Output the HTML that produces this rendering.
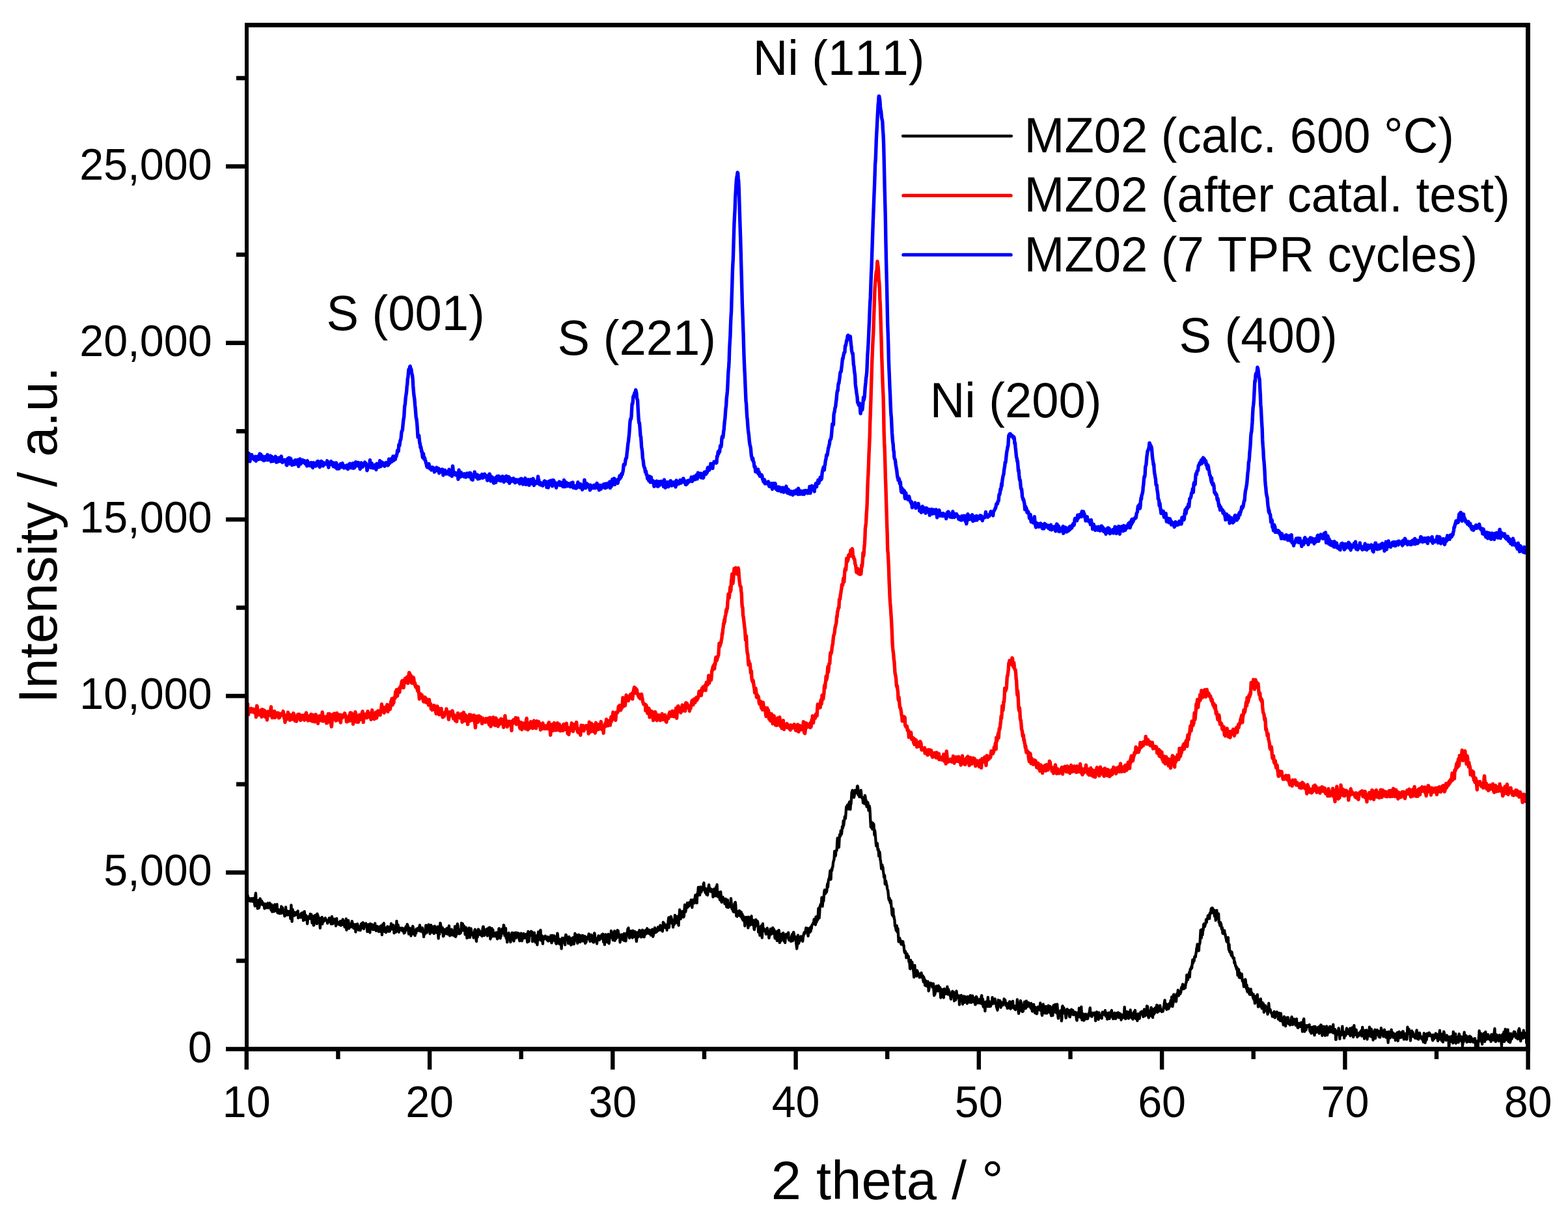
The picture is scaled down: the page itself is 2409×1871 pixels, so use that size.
<!DOCTYPE html>
<html><head><meta charset="utf-8"><title>XRD patterns MZ02</title>
<style>
html,body{margin:0;padding:0;background:#fff;}
svg{display:block;}
text{font-family:"Liberation Sans",Arial,sans-serif;fill:#000;font-kerning:none;}
.t{font-size:66.5px;}
.a{font-size:74.2px;}
.b{font-size:83.1px;}
</style></head><body>
<svg width="2409" height="1871" viewBox="0 0 2409 1871">
<rect width="2409" height="1871" fill="#fff"/>
<defs><clipPath id="c"><rect x="379" y="38" width="1968" height="1574"/></clipPath></defs>
<g clip-path="url(#c)">
<path d="M378.8 1378.6l.6 4.7l.5 -.7l.6 -7.5l.5 6l.6 2.9l.6 -4.7l.5 2.8l.6 1.7l.6 -.5l.5 -.9l.6 1.8l.6 -3.9l.5 -.1l.6 .2l.5 4l.6 .2l.6 -2.3l.5 -2.4l.6 1.4l.5 2.4l.6 -.4l.6 6.1l.5 2.3l.6 -15.6l.6 -4.1l.5 9l.6 2.8l.6 2.3l.5 1.6l.6 8l.5 -9.1l.6 -3.4l.6 11.7l.5 -.5l.6 -2.6l.5 -4.6l.6 -6.9l.6 5.4l.5 3.7l.6 -5.4l.6 -.3l.5 3.9l.6 -2.1l.6 1.9l.5 2.7l.6 .4l.5 -2.1l.6 3.6l.6 3.7l.5 -1.5l.6 -5.7l.5 4.3l.6 -1.7l.6 3.3l.5 -5l.6 4.4l.6 .5l.5 -6.8l.6 1.5l.6 3.6l.5 1.9l.6 -4.5l.5 -2.9l.6 5.3l.6 .1l.5 1.7l.6 3.8l.5 -8.6l.6 3.1l.6 8.1l.5 -4.1l.6 -5.1l.6 5.6l.5 1.3l.6 1.9l.6 -3.6l.5 -7.1l.6 3.5l.5 1.6l.6 4.5l.6 .3l.5 -8.5l.6 -1.8l.5 9.6l.6 3.7l.6 -5.7l.5 .1l.6 3.3l.6 1.2l.5 1.9l.6 -1.6l.6 -2.5l.5 -1.2l.6 5.2l.5 -10.7l.6 2l.6 5.2l.5 -5.4l.6 4.4l.5 -.3l.6 4.4l.6 -.8l.5 1.4l.6 4l.6 -2.1l.5 -6.8l.6 -5l.6 12.3l.5 -.8l.6 -6.1l.5 2.4l.6 .5l.6 3.8l.5 -1.1l.6 -1.6l.5 -2.9l.6 3.5l.6 -3.6l.5 4.1l.6 7.1l.6 -10.6l.5 -10l.6 10.9l.6 14.4l.5 -10.4l.6 -8.2l.5 7.2l.6 -2l.6 -1.4l.5 1.5l.6 4.1l.5 -1.9l.6 1l.6 -.3l.5 -3.6l.6 .9l.6 -1.3l.5 2.7l.6 -2.5l.6 -2.1l.5 10.7l.6 -.8l.5 -3l.6 2.5l.6 -2.6l.5 -1l.6 3.2l.5 .9l.6 -6.1l.6 5.4l.5 -1.6l.6 -4.7l.6 -.2l.5 2.5l.6 9.5l.6 -7.3l.5 -.1l.6 -6.6l.5 4.2l.6 8.2l.6 -2.7l.5 -3.8l.6 2.9l.5 3.8l.6 .9l.6 5.5l.5 -4.5l.6 -6.8l.6 .4l.5 1.3l.6 1l.6 -.1l.5 .7l.6 -7.1l.5 6.6l.6 -.5l.6 -5.2l.5 6.3l.6 6.7l.5 -1.9l.6 -3l.6 -5l.5 13.5l.6 -.3l.6 -12.2l.5 -2.6l.6 4.4l.6 -4.8l.5 3.8l.6 1.1l.5 5.7l.6 2.5l.6 -15.5l.5 3.9l.6 -1.1l.5 7.9l.6 1.9l.6 -.3l.5 -5.7l.6 8.7l.6 6.8l.5 -12.2l.6 -.3l.6 -1.2l.5 .6l.6 -3.7l.5 10.5l.6 -5.1l.6 -3l.5 4.8l.6 -3l.5 -.6l.6 -.3l.6 1.2l.5 -3.3l.6 1l.6 2.6l.5 0l.6 1.5l.6 -.6l.5 3.7l.6 -2.1l.5 -1.4l.6 -1.7l.6 -.4l.5 -2.6l.6 5.9l.5 -3.1l.6 -1.6l.6 5.4l.5 2.6l.6 -3.1l.6 -8.2l.5 6.8l.6 4.4l.6 -7.1l.5 5.7l.6 -1.5l.5 -4.6l.6 4.2l.6 1.5l.5 1.1l.6 -6.6l.5 10.5l.6 -2.8l.6 -8.7l.5 7l.6 .5l.6 .9l.5 -1.2l.6 -.1l.6 1.9l.5 -3.3l.6 3.9l.5 -1.7l.6 -3.9l.6 3.1l.5 3.6l.6 -1.9l.5 -3.9l.6 4.9l.6 -6.7l.5 -1.8l.6 6l.6 -3.5l.5 3l.6 2.6l.6 3.8l.5 -5.4l.6 -2.5l.5 4.7l.6 -9.5l.6 17.3l.5 -4.2l.6 -7.8l.5 6.5l.6 -.3l.6 -8.9l.5 6.4l.6 5.9l.6 -4.8l.5 -1.9l.6 3.6l.6 -4.1l.5 2.8l.6 1.8l.5 -4l.6 -4.6l.6 3.3l.5 -.1l.6 6.4l.5 .4l.6 1l.6 -1.3l.5 -.8l.6 -3.9l.6 3.9l.5 7.6l.6 -6.2l.6 -5.5l.5 1.3l.6 -.4l.5 -1.5l.6 3.1l.6 0l.5 6.3l.6 -2.3l.5 -1.5l.6 3.3l.6 -3.8l.5 4.6l.6 -4.9l.6 -4.9l.5 1.5l.6 2l.6 -4.7l.5 3l.6 -3.9l.5 9.3l.6 .3l.6 -5.3l.5 -2.2l.6 1.7l.5 1.8l.6 -3l.6 -1.2l.5 3.3l.6 .2l.6 5.4l.5 3.8l.6 -4.1l.6 -.4l.5 -6.5l.6 4.5l.5 1.3l.6 .8l.6 5.7l.5 -13.7l.6 2.5l.5 -.3l.6 4.2l.6 -4.3l.5 -.6l.6 4.6l.6 3.2l.5 -1.4l.6 -4.6l.6 -.8l.5 6.5l.6 -.7l.5 -8.7l.6 6.9l.6 3.5l.5 1l.6 -4l.5 2.3l.6 -5.3l.6 2.8l.5 -1l.6 2.7l.6 3.8l.5 -6.5l.6 -.8l.6 1.8l.5 5l.6 .4l.5 -8.9l.6 2.9l.6 4.7l.5 6.3l.6 -12.8l.5 -3.1l.6 10l.6 -7.2l.5 -4.8l.6 7.4l.6 5.6l.5 -5.9l.6 1.5l.6 .7l.5 5l.6 -3.4l.5 1l.6 -5.8l.6 -.9l.5 1.9l.6 5.2l.5 .3l.6 -6.6l.6 3.1l.5 3.4l.6 -3.5l.6 -2.4l.5 0l.6 -6l.6 4.6l.5 4.1l.6 -4.4l.5 4.4l.6 -5.4l.6 -1l.5 2l.6 10.3l.5 -9.6l.6 1.5l.6 6l.5 -1.5l.6 2.1l.6 -7.3l.5 -9.7l.6 9.9l.6 -1.8l.5 -.4l.6 -1.7l.5 7.4l.6 3.8l.6 -6.9l.5 3.5l.6 .1l.5 -2.7l.6 .3l.6 -.6l.5 2.8l.6 .5l.6 -3.4l.5 4.3l.6 -3.9l.6 .4l.5 2.4l.6 4.7l.5 -6l.6 5.2l.6 -1.8l.5 -4.8l.6 -2.7l.5 4.2l.6 .4l.6 -5.8l.5 -2.4l.6 2.3l.6 .7l.5 7l.6 4.9l.6 -1.5l.5 -3.1l.6 -4.3l.5 .4l.6 4.4l.6 6.9l.5 -2.5l.6 -7.3l.5 -1.2l.6 -1.4l.6 -2.3l.5 1.9l.6 2.8l.6 7.5l.5 -3.9l.6 1.7l.6 4.4l.5 -6.1l.6 2.9l.5 -.5l.6 -6.5l.6 .5l.5 .4l.6 -1.5l.5 -.4l.6 1.6l.6 1.9l.5 -4.8l.6 .9l.6 -4.4l.5 4.2l.6 5.2l.6 -1.1l.5 -.4l.6 1.5l.5 -4.5l.6 -.8l.6 4l.5 3.6l.6 -1.5l.5 7.7l.6 -6.4l.6 -.9l.5 3.3l.6 -5.2l.6 -5.6l.5 -2.9l.6 4.8l.6 6.7l.5 -1.5l.6 -2.1l.5 -2.4l.6 2.8l.6 -9.2l.5 4.3l.6 4l.5 -6.1l.6 11.7l.6 -7.3l.5 -6l.6 .1l.6 9.3l.5 -3.4l.6 2.3l.6 2.9l.5 -1.5l.6 -7.1l.5 -.3l.6 10.8l.6 -7.4l.5 -4.2l.6 3.7l.5 5.4l.6 -.2l.6 .9l.5 -6.4l.6 4.6l.6 2.6l.5 -9.7l.6 8.5l.6 9.6l.5 -11l.6 -2.9l.5 7.3l.6 -9.1l.6 -8l.5 1.9l.6 4.4l.5 1.5l.6 4.9l.6 1.1l.5 -6.9l.6 4.4l.6 9.1l.5 -.1l.6 -2.2l.6 -4.4l.5 2l.6 -6l.5 3.1l.6 .1l.6 3.4l.5 -.2l.6 -7.8l.5 1.9l.6 7l.6 -7.4l.5 -2.4l.6 .3l.6 -3.4l.5 8.7l.6 6.5l.6 -1.4l.5 -3.3l.6 -2.3l.5 .6l.6 -3.3l.6 4.7l.5 4l.6 -.1l.5 -6.2l.6 -.5l.6 .3l.5 7.5l.6 -2.5l.6 -11.8l.5 5.2l.6 10.8l.6 -1.8l.5 -1.6l.6 -3.1l.5 -9.9l.6 -3.5l.6 2.7l.5 5.8l.6 4.2l.5 2.5l.6 -3.5l.6 3.3l.5 -2.4l.6 -4.2l.6 5.5l.5 -4l.6 -11.1l.6 3.2l.5 8.2l.6 -10.6l.5 4.7l.6 5.7l.6 -4.4l.5 -2.4l.6 4.1l.5 1.8l.6 7.3l.6 .1l.5 -9.8l.6 -1l.6 7.9l.5 8.2l.6 -3.7l.6 -3.4l.5 6.3l.6 -4.6l.5 -5l.6 -5.1l.6 1.5l.5 13l.6 -9.3l.5 -1.4l.6 -2.9l.6 3.5l.5 6.3l.6 -3l.6 1.7l.5 2l.6 -1.1l.6 4.7l.5 -1.2l.6 -6.4l.5 -3.7l.6 -1.4l.6 5.2l.5 -.6l.6 11l.5 2.7l.6 -10.3l.6 -4.6l.5 8.1l.6 -10.5l.6 -1.4l.5 8.7l.6 -4.7l.6 -2l.5 1.5l.6 4.5l.5 -.1l.6 .1l.6 1.4l.5 -1.9l.6 3.3l.5 -5.3l.6 -6.6l.6 -2.8l.5 0l.6 4.8l.6 8.7l.5 -.2l.6 -4.9l.6 -3.4l.5 1.3l.6 1.6l.5 -.3l.6 -3.9l.6 2.3l.5 8.1l.6 -10l.5 1.5l.6 -3.7l.6 5.6l.5 1l.6 -7.4l.6 6.3l.5 11.6l.6 -3.4l.6 .9l.5 -2.9l.6 -11l.5 6.6l.6 1.8l.6 -6.1l.5 7.1l.6 2.7l.5 -4.4l.6 4.2l.6 -4.3l.5 2.7l.6 -3.3l.6 2.9l.5 -3.7l.6 7.4l.6 .3l.5 2.4l.6 -6.8l.5 -3.2l.6 6.2l.6 -12l.5 -.4l.6 12.1l.5 2.1l.6 1l.6 -4.2l.5 1l.6 -3.5l.6 -5.2l.5 -2.6l.6 4.1l.6 2.4l.5 -.3l.6 -12.1l.5 .4l.6 9.3l.6 6.5l.5 -1.9l.6 -2.9l.5 -6.4l.6 14.9l.6 -3.9l.5 5.1l.6 5.3l.6 -5.5l.5 -6.1l.6 1.2l.6 -3.8l.5 3.3l.6 1.9l.5 1.7l.6 2.8l.6 4.2l.5 -7.1l.6 1.6l.5 -4.6l.6 -4.1l.6 1l.5 -.9l.6 7.4l.6 3.8l.5 1.4l.6 -4.6l.6 -1.4l.5 -2.8l.6 -4.1l.5 5.5l.6 2.6l.6 -6l.5 4.2l.6 -6l.5 1.7l.6 1.4l.6 -.5l.5 -2l.6 7.3l.6 2.6l.5 1.8l.6 -3l.6 -8l.5 .9l.6 -1.4l.5 5.1l.6 6.5l.6 -2l.5 -5.6l.6 -1l.5 2.9l.6 -5.5l.6 3.2l.5 3.5l.6 -2.9l.6 -1l.5 2.7l.6 -2.8l.6 -2l.5 6.6l.6 1.1l.5 4.8l.6 -7.9l.6 -8.7l.5 9.6l.6 5.7l.5 -6.9l.6 -6.5l.6 4.4l.5 -4l.6 2.3l.6 -4.7l.5 4.3l.6 -3.7l.6 3.9l.5 11.1l.6 -3.7l.5 .6l.6 -3.6l.6 -3.9l.5 -3l.6 9.2l.5 .8l.6 4.7l.6 -8.1l.5 -1.8l.6 3.2l.6 6.2l.5 4.4l.6 -9.3l.6 -7l.5 -3.5l.6 11.5l.5 .5l.6 -5.3l.6 1.4l.5 -9.1l.6 -1.7l.5 12.7l.6 3.3l.6 -2.1l.5 -5.2l.6 4.2l.6 8.2l.5 -9.9l.6 -1.1l.6 .8l.5 2.3l.6 .3l.5 -1.4l.6 -3.3l.6 2.1l.5 -.7l.6 .7l.5 1.4l.6 3.1l.6 -3.6l.5 -1.4l.6 6.3l.6 -2.5l.5 -2.8l.6 4.6l.6 -.1l.5 -1.9l.6 .1l.5 -5.7l.6 4l.6 7.1l.5 -1.2l.6 -10.3l.5 3.2l.6 -1.1l.6 .3l.5 2.9l.6 -4.7l.6 7.7l.5 -.5l.6 .7l.6 1.1l.5 2.6l.6 .9l.5 -11.3l.6 .8l.6 -5.8l.5 2.5l.6 8.2l.5 3.2l.6 2l.6 -6l.5 -.6l.6 .5l.6 4.4l.5 3.7l.6 -7.3l.6 13.1l.5 -7.1l.6 -9.3l.5 3.3l.6 2.6l.6 -.5l.5 -5.3l.6 6.2l.5 -1.4l.6 3.2l.6 2.4l.5 -11.2l.6 -4.3l.6 .6l.5 5.1l.6 1.7l.6 .5l.5 -4l.6 2.9l.5 6.6l.6 -9.3l.6 -.9l.5 4.2l.6 -.7l.5 -1l.6 7.9l.6 2.1l.5 -2.8l.6 -7.5l.6 9l.5 -1.5l.6 -7.7l.6 -1l.5 -.1l.6 10.4l.5 -2.5l.6 -4.5l.6 -9.4l.5 7.3l.6 -1.5l.5 -4l.6 7.1l.6 -2.5l.5 3.9l.6 4.7l.6 -11.4l.5 .8l.6 -2.5l.6 3.2l.5 7.2l.6 -7.4l.5 8.3l.6 -2.2l.6 -7.9l.5 2.5l.6 6l.5 -7.1l.6 1.2l.6 -2.8l.5 7.7l.6 1l.6 -4.5l.5 4.8l.6 -6.6l.6 -1.1l.5 11l.6 -3.5l.5 2l.6 -1.7l.6 -6.1l.5 0l.6 2.2l.5 -1.3l.6 -2.7l.6 -.7l.5 -2.9l.6 5.1l.6 4.5l.5 2l.6 -9.8l.6 5.5l.5 1.9l.6 -7.5l.5 3.4l.6 6l.6 .3l.5 .2l.6 1.3l.5 .2l.6 -3.9l.6 -10.4l.5 1.2l.6 7.3l.6 -1.1l.5 3l.6 2.8l.6 -2.9l.5 6l.6 -8l.5 2l.6 -1.9l.6 -4.2l.5 5l.6 -2.2l.5 3.6l.6 -5.4l.6 .8l.5 -1.2l.6 .7l.6 .6l.5 -3.4l.6 5.8l.6 -4.2l.5 -2.9l.6 8.2l.5 4.2l.6 -1.1l.6 -2l.5 7.2l.6 -10.4l.5 -5.3l.6 -.1l.6 7.3l.5 1.3l.6 2.1l.6 1.1l.5 -5.3l.6 -4.9l.6 -2l.5 12.8l.6 1.4l.5 -4.1l.6 -4.7l.6 -1.3l.5 -.4l.6 -.3l.5 -8.5l.6 5.3l.6 3.5l.5 2l.6 1l.6 2.5l.5 -2.3l.6 1.5l.6 -12.2l.5 -1l.6 14.6l.5 -6.3l.6 -2.3l.6 5.9l.5 -4.5l.6 3.3l.5 -5.6l.6 -6.5l.6 1.3l.5 -.2l.6 6.1l.6 2l.5 2l.6 -4.3l.6 11.8l.5 -3.5l.6 -5.3l.5 2.1l.6 -1.9l.6 -3.1l.5 2.1l.6 4.8l.5 .6l.6 .6l.6 -5.7l.5 -4.1l.6 11l.6 -3.6l.5 -1.7l.6 2.4l.6 3.3l.5 -10.1l.6 -2.2l.5 2l.6 .5l.6 -8.5l.5 5.1l.6 -6.8l.5 7.3l.6 7.5l.6 .6l.5 -7.3l.6 5.1l.6 -3.2l.5 -5.3l.6 .2l.6 1l.5 4.4l.6 4.7l.5 -10.8l.6 .3l.6 9l.5 0l.6 -.2l.5 -7.8l.6 5.9l.6 -5.4l.5 2l.6 8.3l.6 4.4l.5 -4.6l.6 -1.4l.6 -5.5l.5 -2.6l.6 6.9l.5 -1.5l.6 -3.1l.6 -5.6l.5 3.7l.6 5.1l.5 -5l.6 -1.9l.6 9l.5 -1.6l.6 -4.9l.6 -4.6l.5 .3l.6 2.5l.6 7.3l.5 -5l.6 5.7l.5 -6.4l.6 -3.4l.6 6l.5 -2.1l.6 -4.8l.5 1.5l.6 3.7l.6 -7.8l.5 1.4l.6 3.4l.6 -1l.5 3.9l.6 -3.2l.6 -2l.5 2l.6 3.5l.5 -2.7l.6 5.1l.6 -6.6l.5 3.9l.6 -4.5l.5 -1.7l.6 3.4l.6 7.9l.5 -1.5l.6 -7.9l.6 4.2l.5 -2.9l.6 -5.7l.6 3.7l.5 .9l.6 2.6l.5 -4.6l.6 .6l.6 2.7l.5 -1.1l.6 -2.2l.5 -3.6l.6 5l.6 -.1l.5 -.3l.6 -2.9l.6 -.5l.5 -3.8l.6 2.2l.6 4.9l.5 -1.6l.6 1.5l.5 -.9l.6 3l.6 -4.5l.5 -9.4l.6 5.3l.5 1.5l.6 -4.8l.6 4.8l.5 1.4l.6 -.3l.6 -3.1l.5 .3l.6 1l.6 6.1l.5 -7.3l.6 -2.5l.5 2.6l.6 -8.2l.6 -4.1l.5 15.5l.6 -8.8l.5 1.2l.6 -1.3l.6 -3l.5 -5.1l.6 1.5l.6 8.8l.5 -5.8l.6 3.3l.6 2.6l.5 6l.6 -7.1l.5 1.6l.6 1.6l.6 -6l.5 -8.5l.6 9.8l.5 -5.7l.6 -2.7l.6 7l.5 3.3l.6 -8.1l.6 -1.1l.5 .3l.6 4.9l.6 8l.5 -15.7l.6 1.9l.5 -10.4l.6 3.6l.6 .7l.5 9.9l.6 -1.7l.5 -8l.6 -1.4l.6 -.4l.5 2.4l.6 -.5l.6 2.1l.5 4.7l.6 -2.3l.6 -10.3l.5 -6.2l.6 2.1l.5 8.6l.6 -2.7l.6 -4.9l.5 2l.6 -5.4l.5 -2.8l.6 6.7l.6 -.7l.5 -3l.6 2.1l.6 -2.8l.5 -3l.6 0l.6 4.1l.5 -.8l.6 -7.1l.5 .4l.6 5l.6 6.2l.5 -10.7l.6 -.8l.5 -.2l.6 2.5l.6 -.1l.5 2.7l.6 -2.6l.6 -7.1l.5 -2.9l.6 3.2l.6 1.2l.5 7.5l.6 .4l.5 -13.9l.6 -.3l.6 -4.4l.5 -5.5l.6 8.6l.5 3.6l.6 -7.6l.6 7.2l.5 -5.8l.6 -6.7l.6 6.6l.5 1.5l.6 -2.9l.6 -.8l.5 1l.6 -1.3l.5 -1.2l.6 -7.5l.6 -1.5l.5 9l.6 -1.6l.5 2.3l.6 5.3l.6 -5.2l.5 -.7l.6 8.6l.6 -1.9l.5 1.9l.6 1.2l.6 -3.8l.5 -5.1l.6 -4.6l.5 -2.5l.6 6.1l.6 3.4l.5 -2.5l.6 3.1l.5 -3.7l.6 4.3l.6 -.6l.5 -2.3l.6 .2l.6 0l.5 10.7l.6 -11.2l.6 -.8l.5 8.4l.6 .4l.5 -5l.6 6.7l.6 -7l.5 -6.3l.6 7.6l.5 -4.1l.6 -7.5l.6 11.9l.5 6.6l.6 .1l.6 -4.6l.5 .7l.6 -2.9l.6 9.2l.5 2.2l.6 -1.7l.5 -10.6l.6 6.3l.6 9l.5 .7l.6 -1.8l.5 -3.6l.6 -2.5l.6 3.7l.5 1.6l.6 -.5l.6 -2l.5 7.6l.6 -7.1l.6 -.6l.5 .6l.6 6l.5 5.6l.6 .6l.6 -1.9l.5 -9.3l.6 10.4l.5 1.3l.6 -5.2l.6 -.2l.5 -.7l.6 3l.6 1.6l.5 -2.4l.6 -9.9l.6 6.4l.5 7.9l.6 1.8l.5 -2.2l.6 1.7l.6 4.1l.5 -4.4l.6 5.4l.5 -9.6l.6 -3.6l.6 3.4l.5 -5.1l.6 3.3l.6 12.8l.5 5.1l.6 -4.2l.6 4.8l.5 -2.2l.6 -5.6l.5 2l.6 .5l.6 3.3l.5 -6.9l.6 6.1l.5 -.3l.6 2.8l.6 -6.6l.5 .1l.6 4.9l.6 4.8l.5 -6.5l.6 7.9l.6 1.6l.5 -6.2l.6 5.6l.5 -.6l.6 2.5l.6 7.4l.5 -3.6l.6 -8l.5 -1.9l.6 4.8l.6 1.3l.5 -4.8l.6 -1.2l.6 6.2l.5 10.1l.6 -16.6l.6 3.9l.5 3.5l.6 2.5l.5 2.8l.6 -2.7l.6 -5.7l.5 -3.4l.6 -2.4l.5 12.2l.6 .8l.6 -3.9l.5 .7l.6 -3.4l.6 4.9l.5 7.9l.6 1.7l.6 -11.1l.5 6.8l.6 -2.4l.5 -8.7l.6 .8l.6 2.8l.5 4.8l.6 -1.9l.5 -3.7l.6 4.4l.6 11.9l.5 -5.9l.6 -.3l.6 1.1l.5 10.1l.6 -13.1l.6 3.3l.5 -3.3l.6 -1.8l.5 3.8l.6 14.8l.6 -9.2l.5 -12.5l.6 11.1l.5 -1.9l.6 -1.7l.6 2.4l.5 1.3l.6 -.6l.6 1.5l.5 1.7l.6 2.4l.6 -4l.5 -3.7l.6 -1.7l.5 6.4l.6 1.1l.6 1.4l.5 1.4l.6 5l.5 -3.5l.6 -.6l.6 -6.6l.5 -3.3l.6 3.6l.6 -1.9l.5 6.2l.6 -4.1l.6 1.8l.5 -7.3l.6 .6l.5 6.2l.6 2.1l.6 -5.9l.5 4.9l.6 7.7l.5 .6l.6 -5.8l.6 -2.2l.5 -2.1l.6 6.4l.6 7.3l.5 -6.3l.6 -8.6l.6 5.5l.5 6.2l.6 -12.9l.5 4.9l.6 14.4l.6 -1.2l.5 -3.7l.6 -1l.5 2.6l.6 -6.8l.6 -3.5l.5 5.5l.6 -1.8l.6 1.8l.5 -6.9l.6 6.7l.6 5.9l.5 -3l.6 -1l.5 6.3l.6 -8l.6 -4.7l.5 -.3l.6 2.4l.5 -.9l.6 3.2l.6 -.6l.5 -4.7l.6 -2l.6 11.2l.5 .5l.6 -3.2l.6 .7l.5 .1l.6 3.3l.5 .9l.6 -5.1l.6 -3.4l.5 -1.5l.6 -1.3l.5 10.6l.6 -4.1l.6 -9.4l.5 2.5l.6 2.6l.6 4.7l.5 -2.8l.6 3.2l.6 2.2l.5 3.2l.6 5.4l.5 4.5l.6 -4.9l.6 -13.5l.5 -2.3l.6 4.1l.5 8.6l.6 -2.2l.6 -.9l.5 -4.8l.6 .1l.6 1.8l.5 -4.8l.6 2.3l.6 3.5l.5 -4.8l.6 2l.5 4.6l.6 -5.6l.6 -3.9l.5 -1.8l.6 -2.3l.5 2.1l.6 -1.2l.6 -1.2l.5 -2.2l.6 -4.6l.6 .3l.5 5.9l.6 -4.2l.6 -1.5l.5 9.9l.6 2l.5 -9.2l.6 .9l.6 -3.2l.5 6.1l.6 -5.2l.5 -2.6l.6 6l.6 -7.3l.5 3.4l.6 -5.2l.6 -.9l.5 -.9l.6 -1.2l.6 .5l.5 -1.5l.6 -5.4l.5 4.8l.6 2.2l.6 1l.5 .4l.6 -12.2l.5 4.1l.6 4.2l.6 -8.7l.5 1.4l.6 3.8l.6 -8.7l.5 -8.9l.6 1.1l.6 13.6l.5 -5.4l.6 -12.7l.5 -.5l.6 -2.6l.6 -.6l.5 1.7l.6 -11.5l.5 5l.6 8.7l.6 -6.2l.5 -5.7l.6 3.9l.6 -8.4l.5 -6.5l.6 -2.4l.6 3l.5 2.9l.6 -2.7l.5 -.3l.6 .6l.6 -2.8l.5 -8l.6 -2.4l.5 5.3l.6 -8.4l.6 -3.5l.5 -1.1l.6 -1.5l.6 -5.3l.5 -5.1l.6 13.4l.6 -.8l.5 -12.3l.6 -2.9l.5 2.1l.6 -4.9l.6 -.4l.5 -5.3l.6 -3.8l.5 -.6l.6 -3.3l.6 -11.3l.5 3.8l.6 3.8l.6 -1l.5 -7.9l.6 .2l.6 -.1l.5 -10.8l.6 -8.2l.5 7.8l.6 -2.7l.6 2.8l.5 6.4l.6 -11.2l.5 -8.3l.6 .3l.6 1.9l.5 -8.3l.6 3.9l.6 1.6l.5 -4.1l.6 -7.8l.6 1.3l.5 .6l.6 -10.7l.5 7.2l.6 -5.2l.6 -4.2l.5 -4.3l.6 -.1l.5 3.1l.6 -8.4l.6 -9.4l.5 1.3l.6 -2.8l.6 -1.3l.5 2l.6 -.1l.6 4.1l.5 -8.3l.6 -.7l.5 -2.2l.6 4.5l.6 7.3l.5 -8.1l.6 -.2l.5 -7.5l.6 -10.1l.6 -1.9l.5 -1.6l.6 1l.6 3.3l.5 6.3l.6 .3l.6 -2.6l.5 -4.8l.6 -3.6l.5 2l.6 1.6l.6 .4l.5 .4l.6 -1.9l.5 -8.6l.6 -.4l.6 2.8l.5 11.1l.6 -3.3l.6 .4l.5 5.8l.6 -2.6l.6 -4.9l.5 -.6l.6 -2.2l.5 4.6l.6 6.9l.6 .1l.5 .6l.6 1.1l.5 6.1l.6 -7.1l.6 -1.1l.5 5l.6 4.6l.6 -12.7l.5 1.6l.6 6.6l.6 -1.3l.5 7.6l.6 2.8l.5 -2.2l.6 -4.7l.6 .4l.5 3.8l.6 8.4l.5 -2.1l.6 -5l.6 2.7l.5 6.8l.6 13.1l.6 10.1l.5 -8.5l.6 1.9l.6 7l.5 2.6l.6 -3.8l.5 -5.5l.6 3.2l.6 -1.6l.5 8.1l.6 8.9l.5 -7.5l.6 4.5l.6 7.6l.5 7.1l.6 5l.6 .3l.5 -4.8l.6 .7l.6 9.7l.5 -1.7l.6 1.1l.5 10.3l.6 0l.6 -6.6l.5 3.9l.6 8.6l.5 1.1l.6 6.4l.6 5.9l.5 -5.2l.6 -.8l.6 4.5l.5 -1.1l.6 6.8l.6 3.5l.5 5.4l.6 -1.2l.5 -1.5l.6 13.2l.6 -3.1l.5 -1.9l.6 2.5l.5 3.9l.6 .8l.6 4.8l.5 1.5l.6 2.3l.6 6.2l.5 5.4l.6 2.1l.6 -3.1l.5 4.5l.6 2.5l.5 1.3l.6 -4.3l.6 8.8l.5 3.8l.6 8.1l.5 1.6l.6 -7.2l.6 -2.5l.5 12l.6 -1.1l.6 4.4l.5 1.2l.6 9.9l.6 -1.4l.5 3.7l.6 4.2l.5 -5.8l.6 -1.2l.6 9.6l.5 -.5l.6 -4.7l.5 8.5l.6 11.7l.6 -6.1l.5 2.3l.6 -1.7l.6 4.7l.5 -1.7l.6 4.8l.6 1.7l.5 -3l.6 1.8l.5 -.8l.6 -2.5l.6 .6l.5 5.8l.6 -.6l.5 5.5l.6 4.9l.6 1.3l.5 -2.7l.6 1.6l.6 2.2l.5 6.6l.6 -4.7l.6 -1.4l.5 2.8l.6 1.8l.5 -1.1l.6 .4l.6 8.2l.5 -2.3l.6 4.1l.5 8.9l.6 .2l.6 -13.2l.5 5.3l.6 5.1l.6 .6l.5 -7.8l.6 6.3l.6 -1.8l.5 6.9l.6 4.9l.5 6.5l.6 -8.2l.6 -9.9l.5 9l.6 5.4l.5 -4.7l.6 5.3l.6 1.6l.5 -8.8l.6 .5l.6 2.3l.5 1.9l.6 2.6l.6 -2.4l.5 .9l.6 4.9l.5 -.5l.6 -1.5l.6 0l.5 1.4l.6 -6.5l.5 5.4l.6 0l.6 2.7l.5 -3.6l.6 7.2l.6 2.6l.5 -7.4l.6 3.7l.6 -.3l.5 9l.6 .3l.5 -7.5l.6 2l.6 1.5l.5 5l.6 -.5l.5 -.7l.6 -6l.6 4.9l.5 9.7l.6 -2.9l.6 -5.4l.5 -.1l.6 -3.8l.6 2.7l.5 -2.6l.6 2.4l.5 1l.6 -2.4l.6 5.2l.5 -5.2l.6 2l.5 -2l.6 10.7l.6 7.4l.5 -4.1l.6 2.3l.6 -2.9l.5 -2.6l.6 -3.8l.6 -3.6l.5 3.5l.6 -.3l.5 -.7l.6 5.3l.6 -.9l.5 -7.4l.6 2.8l.5 .8l.6 1.1l.6 -2.1l.5 8l.6 7.9l.6 -10.7l.5 1.2l.6 3.7l.6 -6.8l.5 1.6l.6 8.1l.5 .6l.6 2.2l.6 -9.7l.5 -3.8l.6 5.4l.5 2.6l.6 -1l.6 -2.2l.5 -.8l.6 -.6l.6 4.1l.5 -10.8l.6 11.5l.6 .4l.5 -7.9l.6 6.4l.5 -3.7l.6 3.5l.6 .6l.5 2.7l.6 3l.5 2.6l.6 -6.1l.6 -2.7l.5 1.7l.6 -5l.6 5.5l.5 2.4l.6 -6.8l.6 7.6l.5 6.1l.6 -10.6l.5 2.4l.6 6.8l.6 -.1l.5 -8.2l.6 -5.3l.5 4.6l.6 1.2l.6 1.4l.5 .7l.6 2.6l.6 -3.1l.5 -.4l.6 13.8l.6 -6.2l.5 -2.6l.6 0l.5 -1l.6 -4.7l.6 3.7l.5 .7l.6 2.5l.5 7l.6 -5l.6 -1.3l.5 -6l.6 1.1l.6 8.4l.5 -3.6l.6 -5.5l.6 2.4l.5 .2l.6 -.9l.5 -.5l.6 9.5l.6 -6.8l.5 -3.9l.6 .5l.5 7.2l.6 -2.4l.6 3.5l.5 -1.3l.6 -3l.6 -6.2l.5 8.1l.6 2.9l.6 -1.9l.5 -2.3l.6 -2.2l.5 -4l.6 7.5l.6 1.8l.5 -3.8l.6 -2.3l.5 2.6l.6 .8l.6 6.8l.5 .1l.6 -7.4l.6 -4.8l.5 2.6l.6 -.8l.6 2.7l.5 3.5l.6 1.7l.5 -.3l.6 -2.9l.6 2.1l.5 -4.4l.6 .4l.5 5.4l.6 -.2l.6 -7.4l.5 -2.6l.6 -1.6l.6 13.2l.5 -6.7l.6 -1l.6 11.1l.5 1.1l.6 -.5l.5 -6.9l.6 1.4l.6 12.2l.5 -7.9l.6 -4.4l.5 -2l.6 -.2l.6 2.3l.5 5.1l.6 -7.3l.6 -6.8l.5 5l.6 3.8l.6 5.4l.5 -.3l.6 -6.9l.5 2.3l.6 4.7l.6 -2.2l.5 -4.2l.6 3l.5 -2.1l.6 -8.3l.6 10.1l.5 -4.1l.6 -1.4l.6 2.1l.5 0l.6 .3l.6 -4.6l.5 5.8l.6 2l.5 -.9l.6 4.4l.6 2.3l.5 1.1l.6 2.6l.5 -4.6l.6 -11l.6 3.2l.5 2.8l.6 -.1l.6 -2.6l.5 -2.5l.6 6.4l.6 4.3l.5 -8.2l.6 2.6l.5 .6l.6 -2.3l.6 4l.5 -.8l.6 -3.5l.5 1.6l.6 -7.2l.6 1.6l.5 3.6l.6 -3.5l.6 4.5l.5 3.7l.6 -3.3l.6 0l.5 4.4l.6 3.4l.5 -6.6l.6 .8l.6 5.2l.5 -2.9l.6 -5.2l.5 -1.4l.6 1.9l.6 -2l.5 11.1l.6 -4.3l.6 -1.3l.5 1.2l.6 1.5l.6 -3.2l.5 -5.8l.6 10.3l.5 -1l.6 -2.6l.6 .8l.5 4.6l.6 .2l.5 .7l.6 -.5l.6 -3.4l.5 -.9l.6 -3.8l.6 -6.9l.5 4.6l.6 .1l.6 13.4l.5 3.4l.6 -3.6l.5 -7.8l.6 7.2l.6 -10l.5 -5.6l.6 2.8l.5 .2l.6 4.2l.6 2.6l.5 7.3l.6 -.2l.6 -.8l.5 -2.8l.6 -3.9l.6 -3.3l.5 -4.4l.6 1l.5 3.4l.6 5.8l.6 -7.6l.5 -3.7l.6 7.3l.5 -1.9l.6 3.2l.6 -.2l.5 -2.8l.6 -3l.6 4l.5 0l.6 -.8l.6 .3l.5 3.4l.6 1.6l.5 -7.6l.6 2.6l.6 5.6l.5 3.9l.6 .3l.5 -2.8l.6 -6.6l.6 -1.2l.5 7.8l.6 -3.1l.6 3.9l.5 4.6l.6 -9l.6 1.5l.5 .9l.6 7.8l.5 -.4l.6 -8l.6 1.1l.5 -3.4l.6 .5l.5 3.1l.6 .6l.6 .6l.5 -4.5l.6 -6.3l.6 4.2l.5 1l.6 -.2l.6 12.2l.5 1.9l.6 -7.4l.5 -7.9l.6 -1.9l.6 7.2l.5 6.4l.6 -4l.5 -1l.6 1.4l.6 3.7l.5 -10.3l.6 2.4l.6 5.3l.5 2.8l.6 -1.1l.6 -7.2l.5 -.8l.6 -2.7l.5 5.2l.6 3.6l.6 1.4l.5 -5.4l.6 -3.6l.5 10.7l.6 0l.6 3.8l.5 -2.1l.6 -10.4l.6 5.5l.5 6.5l.6 -6l.6 -9.4l.5 7.7l.6 2.1l.5 .1l.6 -11.2l.6 6.9l.5 -6.7l.6 1.3l.5 11.1l.6 -7.4l.6 -5.7l.5 5.8l.6 11.6l.6 4.3l.5 -9.2l.6 2.2l.6 1.6l.5 -2.1l.6 -.2l.5 -4.2l.6 4.2l.6 4.2l.5 7.4l.6 -3.9l.5 -17.5l.6 -1.7l.6 8.9l.5 2.2l.6 -8.4l.6 3.1l.5 2.7l.6 .9l.6 .4l.5 4.2l.6 4.5l.5 -2.1l.6 -8.9l.6 -2.6l.5 1.4l.6 3l.5 -.3l.6 -.4l.6 -2.1l.5 6.6l.6 3.5l.6 .3l.5 -4l.6 .1l.6 -4.5l.5 -3.1l.6 1.7l.5 5.7l.6 -.6l.6 -5.6l.5 3.1l.6 3.9l.5 -.3l.6 -3.9l.6 1.4l.5 -.5l.6 -.5l.6 1.2l.5 4l.6 6.2l.6 1.1l.5 -4.3l.6 -6.1l.5 -1.7l.6 .4l.6 6l.5 -13.2l.6 4.4l.5 -3l.6 3.6l.6 9.6l.5 -6.4l.6 -10.2l.6 11.9l.5 8.3l.6 -3.7l.6 1.1l.5 -6.9l.6 4l.5 6.2l.6 -3.2l.6 -3.6l.5 3.4l.6 1.5l.5 -8l.6 4.8l.6 1.9l.5 -3.7l.6 3.6l.6 .8l.5 -1.5l.6 -5.5l.6 3l.5 -5.2l.6 .1l.5 -4.4l.6 -3.3l.6 8.9l.5 2.3l.6 -.4l.5 2.5l.6 .1l.6 -5.6l.5 1.4l.6 1.5l.6 -2.1l.5 .7l.6 -.2l.6 -1.6l.5 .7l.6 3.1l.5 8.7l.6 -8.1l.6 -.4l.5 -5.3l.6 8.5l.5 -1.6l.6 -2l.6 5.7l.5 1.1l.6 -10.7l.6 3.3l.5 1l.6 1.9l.6 -.1l.5 1.5l.6 -.6l.5 -2.7l.6 4.6l.6 -8.5l.5 -1l.6 .2l.5 2.3l.6 .5l.6 .6l.5 -.8l.6 -.6l.6 -4.8l.5 4.2l.6 4.8l.6 -3l.5 -2.1l.6 0l.5 9.6l.6 -1.3l.6 -2.3l.5 -2.4l.6 -2.2l.5 -1.9l.6 9.2l.6 -8.3l.5 1.5l.6 2.8l.6 -1.6l.5 -5.8l.6 -1.3l.6 9.8l.5 -2.3l.6 3l.5 2.4l.6 -.8l.6 .6l.5 -7.7l.6 -1l.5 6.2l.6 -5.6l.6 8.1l.5 -3.1l.6 -2.5l.6 -3l.5 3.8l.6 -1.7l.6 -.2l.5 -2.7l.6 7.8l.5 -6.8l.6 2.7l.6 3.4l.5 .4l.6 -5.6l.5 5.5l.6 3.9l.6 -3.4l.5 -1l.6 -1.7l.6 2.3l.5 -4.3l.6 2.6l.6 2.2l.5 -7.8l.6 -8.7l.5 7.8l.6 5l.6 5.5l.5 -1.9l.6 -4.7l.5 -4.7l.6 3.4l.6 .6l.5 -3.2l.6 2.9l.6 6.9l.5 -1.6l.6 -6.7l.6 3.3l.5 -3.1l.6 -4.9l.5 7.5l.6 -.1l.6 4.7l.5 0l.6 -6.2l.5 1.8l.6 6.5l.6 -3.9l.5 -6.7l.6 -.2l.6 .1l.5 -1.8l.6 -1.3l.6 6.8l.5 6.2l.6 -4.7l.5 1.7l.6 2.8l.6 3.3l.5 -6.1l.6 -4.6l.5 2.7l.6 .2l.6 .1l.5 4.4l.6 -5.1l.6 -1l.5 -3.7l.6 .8l.6 -.5l.5 -1.5l.6 2l.5 0l.6 2.8l.6 3.4l.5 -8.7l.6 5.4l.5 -8.2l.6 3.4l.6 6.8l.5 -4.7l.6 -1.2l.6 -1.6l.5 5.7l.6 -13.5l.6 .6l.5 .4l.6 6.6l.5 8.8l.6 1.7l.6 -2.5l.5 -3l.6 -5.2l.5 5.9l.6 1.5l.6 -7.5l.5 -5l.6 1.7l.6 8.1l.5 4.1l.6 1.6l.6 -9.2l.5 -3.5l.6 7.9l.5 -1.4l.6 -.4l.6 -7.7l.5 -.6l.6 3.2l.5 -.9l.6 -1.1l.6 -5.4l.5 10.7l.6 .3l.6 -9.8l.5 6.8l.6 .8l.6 .4l.5 -2.7l.6 -4.5l.5 -1.4l.6 4.3l.6 3.8l.5 -.6l.6 -.3l.5 2.4l.6 -3l.6 .8l.5 1.6l.6 -3.5l.6 -3.5l.5 -2.5l.6 -4.3l.6 -3.4l.5 10.8l.6 .1l.5 -5.3l.6 7.2l.6 1.5l.5 -5.3l.6 1.6l.5 -3.4l.6 -.6l.6 6.7l.5 -.5l.6 -7.5l.6 .8l.5 3.5l.6 -4.8l.6 -4.3l.5 8.3l.6 -4.7l.5 -9.2l.6 3.4l.6 11.4l.5 -2.9l.6 -2.6l.5 -12.7l.6 -.3l.6 10l.5 -3.6l.6 3.2l.6 -.5l.5 -2.7l.6 4.5l.6 -7l.5 -5l.6 1.8l.5 .9l.6 -8.4l.6 7.4l.5 1.2l.6 -4.5l.5 1.7l.6 -3.4l.6 3.7l.5 -2.2l.6 -.5l.6 -6.1l.5 -1.7l.6 3l.6 -5l.5 -2.5l.6 2.1l.5 5.1l.6 -.1l.6 -1.1l.5 -3.3l.6 .2l.5 2.8l.6 -5.5l.6 -2.9l.5 0l.6 -11.5l.6 1.3l.5 4.8l.6 1.2l.6 -5l.5 1.8l.6 -5.3l.5 -2.8l.6 7.2l.6 -10.1l.5 -2.5l.6 .9l.5 -1.4l.6 -3.3l.6 2.4l.5 -6.2l.6 -6.2l.6 5.2l.5 -4.8l.6 1.3l.6 0l.5 -5.3l.6 -1.9l.5 0l.6 .9l.6 -5.2l.5 -2.3l.6 -6.1l.5 .4l.6 -6.3l.6 2.3l.5 .2l.6 7.7l.6 -.1l.5 -9.5l.6 -.4l.6 -2.5l.5 -9.2l.6 -10.2l.5 9.9l.6 2.3l.6 -13.1l.5 3.9l.6 4.5l.5 -7.9l.6 .9l.6 -9.1l.5 -.8l.6 2.4l.6 1.8l.5 -1.7l.6 -3.1l.6 -.6l.5 -5.8l.6 4.8l.5 -4.4l.6 -.4l.6 -2.2l.5 -3.7l.6 1.9l.5 .1l.6 2.6l.6 0l.5 -8l.6 .5l.6 .1l.5 -4.9l.6 -3.3l.6 4.8l.5 -.5l.6 -5.1l.5 3.7l.6 4.2l.6 .4l.5 -5.2l.6 .3l.5 9.7l.6 -4.2l.6 -2l.5 12.4l.6 -1.9l.6 -6.8l.5 -6.8l.6 7.2l.6 -1.4l.5 3.1l.6 .4l.5 -4l.6 13.2l.6 .8l.5 1.8l.6 2.6l.5 -5.1l.6 1.7l.6 1.2l.5 6l.6 1.9l.6 -2.9l.5 8.2l.6 1l.6 -1.1l.5 -3.7l.6 3.9l.5 -3.7l.6 5.7l.6 -.2l.5 3.4l.6 2l.5 2.7l.6 3.2l.6 .2l.5 .8l.6 -4.3l.6 -3l.5 13.8l.6 5.3l.6 -8.3l.5 11.4l.6 -2.2l.5 1.2l.6 3.7l.6 .1l.5 3l.6 -5.6l.5 3l.6 3.4l.6 2.4l.5 .8l.6 -.8l.6 .3l.5 7.9l.6 -2.3l.6 2.8l.5 3.9l.6 -.5l.5 2.6l.6 2.9l.6 -2.8l.5 2.7l.6 9.5l.5 -7.7l.6 -1.7l.6 .9l.5 11.6l.6 -7l.6 0l.5 7.9l.6 -4.3l.6 .4l.5 .3l.6 -2.6l.5 5l.6 6l.6 -1.4l.5 1.5l.6 4.4l.5 4.2l.6 -8l.6 3.6l.5 -.3l.6 -6.7l.6 2.9l.5 9l.6 2.5l.6 -5.5l.5 9.1l.6 1.5l.5 -3.6l.6 -2l.6 3.8l.5 -.5l.6 5.4l.5 .6l.6 .3l.6 -2.4l.5 -5.9l.6 6.6l.6 -1.5l.5 1.3l.6 3l.6 -2.2l.5 5.9l.6 -5.3l.5 7.9l.6 -1.9l.6 2.8l.5 5.2l.6 -7.6l.5 -3.2l.6 7.7l.6 1l.5 -1.4l.6 -7.4l.6 -2.6l.5 9.9l.6 8.8l.6 -6.4l.5 -4.5l.6 4.7l.5 3.8l.6 1.4l.6 -3.4l.5 -7.6l.6 11.3l.5 -.5l.6 3.7l.6 -9.2l.5 3.5l.6 1.7l.6 -3.6l.5 7.6l.6 6l.6 -6.5l.5 1.6l.6 -4.1l.5 -1.2l.6 2.9l.6 .8l.5 4.3l.6 -5.1l.5 5.5l.6 4.8l.6 -4.4l.5 -6l.6 -6.4l.6 7.4l.5 2.4l.6 2.4l.6 -2.6l.5 2.3l.6 2.3l.5 .5l.6 1.6l.6 1l.5 3.1l.6 -5.4l.5 2.9l.6 1.1l.6 -3.2l.5 -3.2l.6 9.2l.6 .3l.5 -5.2l.6 1.2l.6 1.2l.5 -2l.6 -4.2l.5 4.8l.6 2.1l.6 -.8l.5 5.2l.6 -6.5l.5 -2.9l.6 5.5l.6 5.3l.5 .8l.6 .3l.6 -11.4l.5 5.3l.6 5.4l.6 1.2l.5 -4.8l.6 2.3l.5 4.7l.6 3.7l.6 -4l.5 -8.9l.6 2.6l.5 5.5l.6 .9l.6 5.7l.5 -5.6l.6 -7.3l.6 .1l.5 6.2l.6 -3l.6 -3.8l.5 .6l.6 9l.5 .4l.6 -4.1l.6 3.8l.5 2l.6 -6.9l.5 4.2l.6 1.5l.6 -10.4l.5 -.9l.6 7.8l.6 4.1l.5 -2.5l.6 -4.3l.6 3.8l.5 -5.7l.6 5.6l.5 2.2l.6 -.8l.6 -2.1l.5 5l.6 -9.7l.5 -.3l.6 9l.6 -2.1l.5 6.4l.6 .3l.6 -6.8l.5 5.4l.6 -.9l.6 .5l.5 -3.4l.6 -2.2l.5 5.5l.6 .4l.6 -4.6l.5 -2.1l.6 6.1l.5 7.8l.6 -8.2l.6 1.1l.5 -11.4l.6 -1l.6 11.6l.5 8.1l.6 -4.2l.6 -1l.5 -.1l.6 2.6l.5 -6.9l.6 2.9l.6 -.7l.5 -1.7l.6 1.7l.5 0l.6 -2.6l.6 1l.5 -1.6l.6 8.6l.6 1.8l.5 -6l.6 6l.6 2.9l.5 -3.7l.6 -5.7l.5 1.3l.6 3l.6 4l.5 -4.6l.6 -4.7l.5 11l.6 2.2l.6 -6.1l.5 -7.1l.6 3.3l.6 5.5l.5 -.1l.6 -.4l.6 -2.9l.5 3l.6 -4.8l.5 -2.8l.6 .2l.6 -.7l.5 10.4l.6 -9.5l.5 .5l.6 -.9l.6 -3.5l.5 5l.6 -3.9l.6 2.6l.5 12.8l.6 -4.8l.6 -2.5l.5 -4.1l.6 2.8l.5 -5.3l.6 2.9l.6 2.2l.5 8.8l.6 -4.5l.5 -5.6l.6 -1.3l.6 -3l.5 6.8l.6 6.8l.6 -5.9l.5 .7l.6 -2.1l.6 1l.5 1.9l.6 -7.6l.5 -1.1l.6 8.4l.6 -8.1l.5 2.1l.6 2.5l.5 -3l.6 2.8l.6 3.2l.5 1.5l.6 -12.5l.6 11.3l.5 0l.6 1.9l.6 -1.6l.5 -4.2l.6 1.2l.5 14.4l.6 .1l.6 -11.1l.5 -1.5l.6 4.9l.5 -.3l.6 -3.1l.6 -2.1l.5 -4.2l.6 5.8l.6 5.2l.5 5.4l.6 -9l.6 -.7l.5 -.3l.6 3.9l.5 -2.9l.6 -4.9l.6 -5.4l.5 7.8l.6 2.7l.5 2.9l.6 -4.9l.6 9.6l.5 -7.1l.6 -1.7l.6 2.1l.5 2.7l.6 -3.7l.6 -5.7l.5 -1.8l.6 7.3l.5 .9l.6 -.5l.6 -4.2l.5 1.6l.6 2.3l.5 1.8l.6 -7.6l.6 -1.4l.5 11.7l.6 -3.5l.6 -3.1l.5 -.6l.6 -5.1l.6 -.5l.5 6.9l.6 -1.3l.5 9l.6 -8.9l.6 -9.1l.5 5.5l.6 -.1l.5 9l.6 -2l.6 .2l.5 -6l.6 4.6l.6 4.2l.5 2.4l.6 -2.9l.6 -.8l.5 -.8l.6 2.4l.5 -3.9l.6 1.2l.6 -2.6l.5 3l.6 -1.4l.5 -3.5l.6 -.8l.6 8.8l.5 -8l.6 -5.9l.6 8.9l.5 -2.3l.6 -1.2l.6 1l.5 11.4l.6 -6.4l.5 -6.2l.6 1.3l.6 3.2l.5 2.4l.6 -7.5l.5 3.9l.6 10.2l.6 -12.3l.5 2.1l.6 5.7l.6 -2.2l.5 -2.6l.6 -9.6l.6 10.2l.5 1.1l.6 -2.7l.5 6.2l.6 -11.7l.6 2l.5 7.5l.6 1.9l.5 -.2l.6 5.7l.6 -4.3l.5 -.5l.6 .5l.6 -9.8l.5 -1.7l.6 13.3l.6 -3.8l.5 -4l.6 -4.7l.5 1.4l.6 -1.9l.6 .9l.5 6.3l.6 -3.3l.5 -2l.6 8.5l.6 .5l.5 -1.6l.6 2.1l.6 -5.4l.5 -2.5l.6 -6.5l.6 8.1l.5 1.9l.6 -1.1l.5 -4l.6 4.8l.6 3.5l.5 -1.8l.6 -8.1l.5 -.6l.6 4.9l.6 -1.6l.5 3.4l.6 5l.6 -5.9l.5 -1.3l.6 -.8l.6 6l.5 3l.6 7l.5 -7.3l.6 -9.3l.6 3.6l.5 .2l.6 .4l.5 5.2l.6 -4.1l.6 1l.5 -9.6l.6 7.3l.6 2.7l.5 -3.4l.6 -1.8l.6 7.4l.5 -4l.6 3.4l.5 -3.7l.6 -1.3l.6 2.4l.5 7.5l.6 -3.8l.5 -3.7l.6 -1.2l.6 -1.6l.5 -1.7l.6 9.3l.6 3.6l.5 -9.5l.6 -1l.6 -3.7l.5 6l.6 3.3l.5 -2.8l.6 -5l.6 4.6l.5 2.7l.6 -3.6l.5 2.2l.6 -6.7l.6 -1.2l.5 .1l.6 3.7l.6 8.6l.5 -3.4l.6 1.1l.6 -2.5l.5 -3.9l.6 5.1l.5 1l.6 2.6l.6 0l.5 -8.2l.6 -10.8l.5 7.5l.6 .1l.6 -3.6l.5 -.7l.6 3.3l.6 3.6l.5 1.7l.6 8.9l.6 -9.2l.5 -1.7l.6 -2.6l.5 -1.5l.6 5l.6 3.6l.5 -6.2l.6 6.5l.5 -3.5l.6 3.5l.6 -.2l.5 1.9l.6 .6l.6 -4.2l.5 1.5l.6 -5.9l.6 -3.6l.5 4.1l.6 9l.5 -5.1l.6 -3.7l.6 9.7l.5 -2l.6 -3.5l.5 -4.3l.6 2.4l.6 4.5l.5 -1.5l.6 2.1l.6 -.1l.5 2.1l.6 .6l.6 -4.3l.5 2.2l.6 5.9l.5 -4.2l.6 -9.3l.6 2.7l.5 1.3l.6 10.8l.5 -1.8l.6 -11.4l.6 0l.5 8.7l.6 -7.3l.6 -2.6l.5 3.4l.6 .4l.6 -2.1l.5 2.1l.6 -4.8l.5 .3l.6 1.7l.6 1.2l.5 .7l.6 1.2l.5 -.7l.6 -1l.6 3.1l.5 3.9l.6 1.4l.6 -8.6l.5 1.5l.6 5l.6 -3.1l.5 .9l.6 -1.2l.5 1.1l.6 -6.6l.6 4.3l.5 .3l.6 -3l.5 1.3l.6 6.3l.6 2.5l.5 -2.9l.6 1.1l.6 -3.9l.5 -6l.6 -4.3l.6 6.3l.5 3.4l.6 .5l.5 .6l.6 4.8l.6 -6.4l.5 -3.7l.6 11.4l.5 .8l.6 -6.7l.6 -9.3l.5 1.3l.6 4.5l.6 2.2l.5 1.7l.6 -1.1l.6 4.8l.5 -6.7l.6 -1l.5 .2l.6 5.2l.6 .6l.5 1.3l.6 -1.6l.5 13.6l.6 -4.8l.6 -12.3l.5 .1l.6 -.1l.6 4l.5 3.3l.6 -1.9l.6 -3.5l.5 -3.2l.6 8.4l.5 2.7l.6 -17.6l.6 4l.5 2.5l.6 .1l.5 9.5l.6 -7.4l.6 -5.4l.5 14.6l.6 -4.8l.6 -5l.5 6.2l.6 -3.9l.6 -1.2l.5 2l.6 5.3l.5 -10l.6 -3l.6 4.5l.5 5.8l.6 -4.3l.5 1.4l.6 -1.7l.6 -1.5l.5 7.1l.6 -2.8l.6 10.1l.5 -4.1l.6 -2.2l.6 0l.5 -10.2l.6 -4.7l.5 8.4l.6 -2.4l.6 -.9l.5 2l.6 -2l.5 7.5l.6 2.6l.6 -3.3l.5 .4l.6 -5.3l.6 4.4l.5 -3.5l.6 6.4l.6 -4.2l.5 -4.1l.6 7.3l.5 1.4l.6 -7.6l.6 3.1l.5 .7l.6 -1.2l.5 2.5l.6 1.3l.6 1.6l.5 -1.4l.6 -1.7l.6 -2.1l.5 5.7l.6 -6.1l.6 6.4l.5 6.6l.6 .5l.5 -9.5l.6 4.5l.6 .7l.5 -2.3l.6 9l.5 -8.2l.6 -4.8l.6 -6.8l.5 -7.8l.6 8.4l.6 5.7l.5 1.4l.6 -1.1l.6 -10.2l.5 5l.6 7.9l.5 3.4l.6 -9.5l.6 -5l.5 .9l.6 .6l.5 -3.9l.6 1.8l.6 11.2l.5 -6.2l.6 -8.8l.6 4.9l.5 2.3l.6 4.4l.6 -3.5l.5 -.6l.6 -1.6l.5 -1.9l.6 5.2l.6 1.7l.5 -1.3l.6 2l.5 -4.4l.6 .7l.6 2.5l.5 4.4l.6 -10.7l.6 0l.5 6.4l.6 -2.6l.6 .6l.5 3.8l.6 .4l.5 -9.6l.6 -2.4l.6 -5.6l.5 10.9l.6 5.3l.5 3.8l.6 -3.1l.6 -7.6l.5 6.6l.6 -5.3l.6 .5l.5 1.8l.6 3.6l.6 2.5l.5 -5.2l.6 -4.1l.5 2.2l.6 -.9l.6 5.2l.5 .8l.6 3l.5 7l.6 -11.9l.6 -6.1l.5 5l.6 1.9l.6 -3.3l.5 -7.3l.6 14.7l.6 -1.4l.5 -10.3l.6 -7.7l.5 13.1l.6 3.4l.6 -3.6l.5 -5l.6 1.6l.5 .7l.6 -9.3l.6 17l.5 1.4l.6 -8l.6 -4.2l.5 .1l.6 13.3l.6 -2.2l.5 -11.4l.6 5.6l.5 2.9l.6 -.8l.6 -2.7l.5 -1.6l.6 1.5l.5 -1l.6 -5.9l.6 -.9l.5 5l.6 -4.7l.6 2.7l.5 2.3l.6 3.9l.6 -.3l.5 -3.1l.6 -1l.5 2.9l.6 3.6l.6 -7.4l.5 -6.1l.6 2.2l.5 -4.9l.6 3l.6 9.8l.5 3.9l.6 2.6l.6 -5l.5 -2.8l.6 -2.9l.6 -1.4l.5 3.5l.6 4.2l.5 -.8l.6 -11.3l.6 5.3l.5 3.1l.6 -3.5l.5 1.7l.6 4.6l.6 -1.6l.5 -5.3l.6 15.1l.6 -8.2l.5 -3.8l.6 5.5l.6 -7.2" fill="none" stroke="#000" stroke-width="4.3" stroke-linejoin="round" stroke-linecap="round"/>
<path d="M378.8 1093.1l.6 -4.5l.5 -.8l.6 -6.7l.5 11.4l.6 5.2l.6 -6.2l.5 1.4l.6 .3l.6 -3.6l.5 4l.6 -1.7l.6 -2.2l.5 -1.5l.6 3.6l.5 .4l.6 1.4l.6 -2.8l.5 .7l.6 -2.2l.5 4.4l.6 .9l.6 -.6l.5 .7l.6 -4.7l.6 3.8l.5 7.7l.6 -10.5l.6 -6.7l.5 .7l.6 8.7l.5 1.7l.6 2.2l.6 .5l.5 -2.3l.6 -.5l.5 -1.4l.6 3l.6 -5.1l.5 -.9l.6 3.7l.6 6.7l.5 -6.2l.6 -5.4l.6 1.3l.5 6.4l.6 -1.5l.5 3.5l.6 -8.4l.6 5l.5 5l.6 -8.6l.5 1.3l.6 6.5l.6 -2l.5 1.3l.6 6.5l.6 -4.8l.5 -5.5l.6 -2.6l.6 4.2l.5 -.4l.6 -1.3l.5 .4l.6 2.8l.6 -4.6l.5 -4.5l.6 -3.9l.5 11.2l.6 2.5l.6 3.1l.5 -2.7l.6 -5.1l.6 3.1l.5 .2l.6 -5l.6 -.6l.5 9.9l.6 -.2l.5 -2.2l.6 -2.2l.6 -2.6l.5 4.9l.6 -.6l.5 -4l.6 1.1l.6 -1.5l.5 2.6l.6 5.2l.6 -5.1l.5 4.5l.6 -3.3l.6 -.7l.5 -1.9l.6 .5l.5 2l.6 -1.1l.6 -1.7l.5 -.3l.6 -.4l.5 -2.8l.6 3.3l.6 4.7l.5 3l.6 0l.6 5.9l.5 -4.2l.6 -6.4l.6 6.9l.5 -6.1l.6 2l.5 -3.1l.6 1.3l.6 -5.8l.5 6l.6 1.4l.5 -4.6l.6 7.9l.6 1.5l.5 -4.1l.6 -4l.6 1.2l.5 .8l.6 3l.6 1.8l.5 -4.9l.6 -2.1l.5 .3l.6 -2.7l.6 1.2l.5 3.2l.6 3.6l.5 3.6l.6 -6.2l.6 1l.5 -1l.6 7.1l.6 -3l.5 -1.7l.6 -4l.6 -2l.5 3.7l.6 -.2l.5 1.6l.6 -5.3l.6 4.4l.5 -1.5l.6 6.5l.5 -2.4l.6 1.3l.6 -6.2l.5 2.1l.6 -1.4l.6 -.9l.5 2.6l.6 -.3l.6 1.5l.5 2.7l.6 .6l.5 -2.8l.6 -5.7l.6 -.2l.5 3.1l.6 -5.6l.5 6.7l.6 1.6l.6 -1.7l.5 4.2l.6 1.1l.6 -2l.5 -5l.6 2.5l.6 2.4l.5 -4.2l.6 4.6l.5 1.5l.6 -9.5l.6 3l.5 -1.2l.6 6l.5 3.1l.6 -7.2l.6 -2.6l.5 3.9l.6 .5l.6 5.6l.5 .4l.6 -4.9l.6 1.2l.5 -7.6l.6 3.7l.5 6l.6 -2.7l.6 -3.6l.5 3.5l.6 7.1l.5 -3.6l.6 -7.7l.6 6.7l.5 -7.1l.6 2.5l.6 .4l.5 3.4l.6 -3.6l.6 4.5l.5 .2l.6 -8.8l.5 -4.4l.6 5.4l.6 8.5l.5 -1.3l.6 -2.2l.5 -1.2l.6 2.9l.6 .5l.5 -1l.6 -4.6l.6 5.4l.5 4.4l.6 -9l.6 8l.5 .7l.6 -6.9l.5 -7.1l.6 6.5l.6 4.1l.5 -4.2l.6 -6.2l.5 8.1l.6 -.9l.6 -2.6l.5 11.8l.6 3.3l.6 -5.4l.5 -6.9l.6 1.4l.6 -8.3l.5 3.2l.6 1.1l.5 -3.3l.6 -2l.6 6.8l.5 2.2l.6 -.5l.5 2.5l.6 -4.8l.6 -4.3l.5 -2.5l.6 4l.6 6.3l.5 -1.2l.6 1.1l.6 -5l.5 -.7l.6 .2l.5 -2.2l.6 10l.6 1.9l.5 -7.4l.6 -2.9l.5 2.5l.6 -3.6l.6 4.1l.5 -2.8l.6 .2l.6 -.7l.5 .7l.6 -2l.6 -2.4l.5 1.7l.6 2l.5 1.8l.6 1.9l.6 5.7l.5 .1l.6 -5l.5 1.5l.6 -3.3l.6 5l.5 .5l.6 -8.2l.6 4l.5 3.9l.6 -12.2l.6 .6l.5 4.3l.6 -4.6l.5 .4l.6 1.9l.6 5.2l.5 1.8l.6 7.7l.5 -6.5l.6 .1l.6 -1.1l.5 -1.3l.6 -4.7l.6 -5.1l.5 2.6l.6 7.3l.6 5.4l.5 -2l.6 -2.1l.5 -4.9l.6 5.9l.6 3.4l.5 -7l.6 -1.6l.5 -2.5l.6 6.8l.6 .6l.5 -3.7l.6 .8l.6 .9l.5 -3l.6 -4.4l.6 -1.7l.5 -1.7l.6 6.8l.5 9.9l.6 -10.7l.6 -.5l.5 4l.6 -4.4l.5 1.6l.6 -2.6l.6 5.7l.5 -2.4l.6 -.8l.6 3.2l.5 -3l.6 -6.8l.6 1.9l.5 6.6l.6 -.8l.5 -.5l.6 -4.2l.6 1.9l.5 4l.6 -1.5l.5 5.2l.6 -4.3l.6 -6.7l.5 -3.6l.6 8.5l.6 .5l.5 1.4l.6 -.2l.6 2.9l.5 .7l.6 -6.6l.5 -.7l.6 3.7l.6 -6.8l.5 5.1l.6 3.7l.5 -1.5l.6 -4.7l.6 -.5l.5 -4.3l.6 1.4l.6 -.5l.5 1l.6 -1.1l.6 1.5l.5 4.2l.6 -7.4l.5 3.2l.6 -6.6l.6 -6l.5 6.5l.6 3.7l.5 1.4l.6 -6.8l.6 1.5l.5 3.1l.6 3.9l.6 -3.2l.5 -.5l.6 -4.6l.6 -.3l.5 .1l.6 3.1l.5 -4.4l.6 -2.8l.6 4.7l.5 6.1l.6 -3.3l.5 -3.2l.6 -3l.6 3.3l.5 0l.6 2.6l.6 -3.4l.5 -7.6l.6 -1.6l.6 -1.5l.5 -2.3l.6 7.6l.5 2l.6 -8.7l.6 6.2l.5 -1l.6 -7.7l.5 1.7l.6 -.1l.6 -4.2l.5 -6.2l.6 3.9l.6 3.3l.5 -10.5l.6 4.8l.6 4.7l.5 -4.8l.6 -.9l.5 -1.5l.6 -3.7l.6 -.5l.5 5.7l.6 -7.9l.5 -.2l.6 1.7l.6 -4.4l.5 -1.7l.6 -4l.6 -.9l.5 3l.6 1.5l.6 -4.7l.5 10.7l.6 -6.7l.5 -4.7l.6 -.8l.6 -2l.5 5l.6 -3.8l.5 2.7l.6 2.1l.6 -8.3l.5 3.3l.6 -2.4l.6 8.8l.5 -4.9l.6 -7.3l.6 -4.2l.5 .7l.6 3.9l.5 .1l.6 -1.1l.6 2l.5 3.1l.6 7.3l.5 -7.5l.6 -.8l.6 1.3l.5 -1.9l.6 .7l.6 2.6l.5 7.1l.6 .6l.6 -1.9l.5 4.3l.6 1.8l.5 -1.4l.6 2.2l.6 -2.2l.5 3.9l.6 3l.5 -2.4l.6 -3.4l.6 9.1l.5 .8l.6 8.7l.6 -6.8l.5 -.3l.6 -.9l.6 1l.5 4.1l.6 -3.8l.5 .4l.6 3l.6 1.1l.5 2.4l.6 3.1l.5 .9l.6 -1.6l.6 -2.4l.5 -3.1l.6 .7l.6 2.1l.5 5.3l.6 -.9l.6 -4.3l.5 5.6l.6 -1.1l.5 -1.8l.6 2.6l.6 3.9l.5 -8.3l.6 0l.5 7.3l.6 .9l.6 -2.2l.5 .7l.6 7.7l.6 -2.6l.5 1.3l.6 2.8l.6 -3.8l.5 1.4l.6 -1.2l.5 -1.7l.6 -1.7l.6 6.4l.5 -.6l.6 -2.4l.5 -1.9l.6 9.5l.6 1.8l.5 -4.6l.6 -3.2l.6 -3.6l.5 5.2l.6 3.4l.6 -5.6l.5 6.3l.6 3.4l.5 -6.5l.6 -1.4l.6 1.4l.5 2.5l.6 .2l.5 -5.5l.6 8.5l.6 1.6l.5 1.5l.6 1.8l.6 -4.9l.5 -.4l.6 2.5l.6 1l.5 -3l.6 -3l.5 1.6l.6 -1.6l.6 -.4l.5 -4.6l.6 5l.5 0l.6 -.1l.6 2.7l.5 2.3l.6 6.3l.6 -3l.5 -8.4l.6 2.7l.6 .3l.5 2.3l.6 -1.9l.5 -1.9l.6 .8l.6 .1l.5 -4.3l.6 2.1l.5 4.4l.6 5.5l.6 -3l.5 -2.7l.6 3.3l.6 1.6l.5 3.7l.6 -1.6l.6 -3.7l.5 3.8l.6 3.1l.5 -6.6l.6 -1.2l.6 -5.2l.5 1.5l.6 .6l.5 1.5l.6 .4l.6 .7l.5 .8l.6 2.3l.6 .2l.5 -3.1l.6 -3.8l.6 7.6l.5 5.1l.6 -6.1l.5 .3l.6 -5.4l.6 -3.7l.5 4.6l.6 8.4l.5 -5.7l.6 -3.6l.6 9l.5 -7.9l.6 2.8l.6 4l.5 -2.6l.6 .2l.6 9.3l.5 -8.8l.6 -3.6l.5 1.7l.6 -1.3l.6 -3l.5 9.1l.6 .4l.5 -9.2l.6 .3l.6 5.8l.5 2l.6 -6.4l.6 1.6l.5 3.6l.6 1.2l.6 .3l.5 -7.7l.6 9l.5 .8l.6 2.7l.6 6.6l.5 -8.7l.6 -8.9l.5 5.5l.6 .1l.6 -2.7l.5 -2.5l.6 8.6l.6 -2.6l.5 -7l.6 1.7l.6 -.8l.5 3.4l.6 .4l.5 -3.2l.6 4.8l.6 -1.4l.5 2.6l.6 4.4l.5 -4.7l.6 -3.8l.6 2.6l.5 3.9l.6 -1.8l.6 -1l.5 -.3l.6 .9l.6 1.8l.5 -4l.6 -1.5l.5 2.3l.6 -1.5l.6 1.6l.5 2.9l.6 -1.2l.5 -3l.6 -1.5l.6 8.6l.5 1.4l.6 -8.4l.6 -2.5l.5 10l.6 3.6l.6 -5.4l.5 1.2l.6 -7.4l.5 .7l.6 5.2l.6 -7.7l.5 -.7l.6 7.4l.5 4l.6 -5.3l.6 .1l.5 6.2l.6 -4.6l.6 -6.7l.5 2.8l.6 1.2l.6 5.3l.5 -.9l.6 -5.3l.5 9.6l.6 -4.5l.6 -1.6l.5 2.5l.6 .7l.5 -1.8l.6 .4l.6 -1.5l.5 -5.8l.6 1.9l.6 2.2l.5 .2l.6 1.2l.6 -2l.5 5.5l.6 4.3l.5 -12.7l.6 1.2l.6 1.4l.5 -7.8l.6 7.3l.5 1.8l.6 -.9l.6 -.5l.5 5.6l.6 3.7l.6 -3.1l.5 -.1l.6 -2.1l.6 -.4l.5 -2.6l.6 1.2l.5 -1.2l.6 2.6l.6 3.5l.5 -.9l.6 2.2l.5 6.8l.6 -14l.6 -.9l.5 1.7l.6 -.6l.6 -2.8l.5 3.4l.6 1.4l.6 -1.8l.5 .7l.6 -.4l.5 -6.7l.6 9l.6 1.2l.5 -4.6l.6 3.3l.5 -1.1l.6 -6.9l.6 8.1l.5 -3.6l.6 .7l.6 3.8l.5 4.9l.6 1.7l.6 -3.8l.5 -5l.6 -.3l.5 5.9l.6 5.1l.6 -3.1l.5 -6.2l.6 3.8l.5 -1.9l.6 -2.5l.6 .4l.5 3.3l.6 .5l.6 2l.5 2.4l.6 -2.2l.6 -11.2l.5 -2.7l.6 7.6l.5 2.5l.6 7.5l.6 -3.7l.5 -4.2l.6 3.6l.5 2.4l.6 -4.2l.6 .2l.5 -4.3l.6 -2.1l.6 8l.5 -5.4l.6 3.6l.6 3.3l.5 -.1l.6 .7l.5 -.9l.6 -10l.6 -.7l.5 3.5l.6 6l.5 -4.4l.6 -2.1l.6 2l.5 6.5l.6 -6.6l.6 -4.5l.5 7.1l.6 -6.1l.6 3.9l.5 1.6l.6 -5.3l.5 2.1l.6 .1l.6 3.1l.5 2.8l.6 4.3l.5 -3.3l.6 -2.1l.6 -2.2l.5 .8l.6 4.8l.6 -8.5l.5 3.9l.6 .4l.6 .1l.5 2l.6 2.3l.5 -1.2l.6 -3.2l.6 1.4l.5 .2l.6 -1.2l.5 1.1l.6 3l.6 -1.3l.5 -1.2l.6 -5l.6 1.6l.5 -4l.6 6l.6 -1.2l.5 4.9l.6 9.9l.5 -8.8l.6 .1l.6 -.2l.5 -4.9l.6 -2.6l.5 4.4l.6 5.4l.6 -2.1l.5 -8.3l.6 -1.6l.6 3.7l.5 7l.6 -1l.6 -1.7l.5 3.2l.6 -3.3l.5 -2.1l.6 -.1l.6 -5.7l.5 5.1l.6 3.8l.5 1.9l.6 -6.6l.6 -2.4l.5 6.8l.6 .9l.6 2.6l.5 -5.9l.6 -.2l.6 -1.1l.5 1.9l.6 -1l.5 2.2l.6 3.7l.6 -.5l.5 -9.3l.6 5.3l.5 3.1l.6 -6.1l.6 -2l.5 3.4l.6 3.6l.6 -2.6l.5 -5.9l.6 4.7l.6 2.9l.5 7.8l.6 -9.1l.5 6.8l.6 4l.6 -6.4l.5 2.3l.6 -3.1l.5 .4l.6 -4.5l.6 -.1l.5 -2.4l.6 -3.8l.6 3.6l.5 .9l.6 3.6l.6 4.6l.5 -3.8l.6 -1.7l.5 .9l.6 -6.3l.6 3.6l.5 2.5l.6 -.7l.5 -3.7l.6 -4.9l.6 4.5l.5 5l.6 4.6l.6 1l.5 .8l.6 -3.2l.6 .8l.5 -3.3l.6 .5l.5 2.5l.6 6.7l.6 -5.5l.5 -9.5l.6 6.6l.5 -3l.6 -1.2l.6 .5l.5 -2.6l.6 6.8l.6 1.3l.5 -5.5l.6 .3l.6 -.6l.5 2.8l.6 -1.7l.5 -3.1l.6 -.2l.6 .9l.5 2.9l.6 -3l.5 .8l.6 3.3l.6 7.5l.5 -1.9l.6 -16l.6 1.9l.5 4.7l.6 2.7l.6 5.6l.5 -.8l.6 -12.1l.5 3.8l.6 3.8l.6 .7l.5 3.8l.6 -7l.5 3.4l.6 -5.9l.6 1.1l.5 4.1l.6 7.1l.6 -7.2l.5 -8.7l.6 6.5l.6 -.6l.5 5.3l.6 -4.2l.5 -4.6l.6 7l.6 -.5l.5 1.1l.6 -7l.5 6.3l.6 -2.5l.6 .8l.5 -4.1l.6 -5.2l.6 3.4l.5 3.5l.6 5.5l.6 -2.1l.5 -1l.6 .2l.5 8.2l.6 -9.7l.6 .1l.5 -1.5l.6 -1.3l.5 -2.5l.6 4.3l.6 -5.8l.5 -4.8l.6 3.4l.6 -1.7l.5 4.4l.6 3.7l.6 -5.9l.5 2l.6 -2.8l.5 -.8l.6 .7l.6 6.1l.5 -3.7l.6 -7l.5 -2.2l.6 6.8l.6 -6.8l.5 -1.5l.6 1.8l.6 -7.6l.5 2.6l.6 8l.6 -.8l.5 -6l.6 2.9l.5 1.4l.6 4.3l.6 -7.8l.5 -4.3l.6 1.3l.5 -.6l.6 -.3l.6 -1.1l.5 -3.2l.6 -5l.6 1.2l.5 -1.9l.6 -1l.6 1.5l.5 3.7l.6 2.2l.5 -6.9l.6 .6l.6 3.2l.5 -3l.6 -7.8l.5 -5.5l.6 8.6l.6 4.7l.5 -2.8l.6 -6.6l.6 5.6l.5 2.8l.6 -5.6l.6 -3.6l.5 -7.1l.6 5.7l.5 -4.2l.6 3.2l.6 3.5l.5 -2.8l.6 3.4l.5 -4.6l.6 -.7l.6 1.7l.5 -2l.6 -3.8l.6 4.1l.5 -.4l.6 -4l.6 -1.3l.5 .7l.6 7.7l.5 -4.1l.6 -5.3l.6 -3.7l.5 -2.2l.6 -2.8l.5 6.2l.6 2.9l.6 -4.1l.5 -3.4l.6 3.4l.6 1.5l.5 -2.9l.6 4.6l.6 2.7l.5 -.4l.6 3l.5 -2.9l.6 5.2l.6 -4.1l.5 1.9l.6 3.9l.5 -2l.6 1.4l.6 -3.7l.5 -2.6l.6 5.1l.6 1.4l.5 4.7l.6 1.4l.6 2.1l.5 1.1l.6 .1l.5 .5l.6 -.8l.6 0l.5 9.6l.6 -7.9l.5 -.1l.6 7.9l.6 1l.5 3.3l.6 -.3l.6 -6.9l.5 .9l.6 -1.3l.6 7.3l.5 6.5l.6 -5l.5 .8l.6 -1l.6 -4.6l.5 2.3l.6 -1.7l.5 2.1l.6 4.9l.6 3.6l.5 3.4l.6 -4.4l.6 -.5l.5 2l.6 1.1l.6 -11.4l.5 1.5l.6 9.3l.5 -3.7l.6 1.5l.6 4.6l.5 -8.4l.6 1.3l.5 4.5l.6 0l.6 -5.7l.5 3.8l.6 .1l.6 3.3l.5 1l.6 -4.2l.6 .8l.5 -1.9l.6 -1.6l.5 -3.2l.6 3l.6 5.9l.5 -.7l.6 -1.9l.5 -2.5l.6 -.8l.6 4.4l.5 -5.7l.6 8.3l.6 -1.4l.5 3.9l.6 .2l.6 -7.5l.5 1.1l.6 .1l.5 -.3l.6 1.3l.6 -4.3l.5 -2.8l.6 .4l.5 -3.2l.6 1.9l.6 3.5l.5 .7l.6 -.4l.6 -2.4l.5 2.8l.6 -8l.6 .5l.5 2.9l.6 4.1l.5 1.1l.6 -.2l.6 -2.7l.5 1.6l.6 -5.5l.5 .1l.6 -6l.6 9.2l.5 6l.6 -8.1l.6 -5l.5 -5.1l.6 -.5l.6 6.5l.5 1.6l.6 -5.4l.5 .9l.6 .8l.6 3.4l.5 2.5l.6 -3.2l.5 -.7l.6 -.2l.6 -7.8l.5 4l.6 2.8l.6 2l.5 -7.9l.6 4.2l.6 -.7l.5 .4l.6 4.5l.5 -8.1l.6 -4.5l.6 8l.5 -3.8l.6 -3.5l.5 5.4l.6 -.5l.6 1.7l.5 -.4l.6 -2.4l.6 2.6l.5 5.5l.6 -6.3l.6 1.1l.5 1.1l.6 -4.7l.5 -1l.6 -4.7l.6 -1.8l.5 3.2l.6 -.1l.5 3.7l.6 -7.2l.6 -1.6l.5 0l.6 .6l.6 4.9l.5 -6.5l.6 2.5l.6 -2.1l.5 -2.1l.6 4.5l.5 -2.8l.6 .5l.6 -.9l.5 -2.6l.6 -1.9l.5 -5.7l.6 .3l.6 4.3l.5 1l.6 -6.6l.6 5l.5 2.1l.6 -8l.6 -3.2l.5 5.1l.6 -6.1l.5 -1.2l.6 3.3l.6 .1l.5 -.8l.6 .8l.5 -4.3l.6 -1.9l.6 8.4l.5 -8.6l.6 -3.7l.6 2.5l.5 -2.7l.6 4.1l.6 -1.9l.5 -.7l.6 -11.8l.5 6.2l.6 5.3l.6 -8l.5 2.6l.6 -1.4l.5 -.9l.6 2.9l.6 -5.9l.5 -8.3l.6 0l.6 -4.2l.5 -2.1l.6 -.7l.6 -1.4l.5 5l.6 .4l.5 -8.4l.6 2.2l.6 -8.2l.5 -3.2l.6 1.6l.5 3.5l.6 -1.3l.6 -3.9l.5 .3l.6 -2.8l.6 -1l.5 -8.7l.6 -9.3l.6 .4l.5 4.1l.6 -2.4l.5 -1.4l.6 -2.1l.6 -3.8l.5 -2l.6 -7.6l.5 .7l.6 -7.1l.6 -3.5l.5 -6l.6 1.4l.6 -6.9l.5 3.5l.6 -7.6l.6 -2.4l.5 -1.8l.6 -6.5l.5 2.8l.6 -5.4l.6 .4l.5 -8.7l.6 -6.8l.5 -7l.6 3.6l.6 2.5l.5 -4.9l.6 -5.6l.6 -6.4l.5 7.2l.6 -2.8l.6 -14.6l.5 -1.8l.6 -7.9l.5 8.3l.6 6.4l.6 -3.2l.5 -8.1l.6 -6.2l.5 -5.4l.6 4l.6 -2.3l.5 -1.9l.6 -1l.6 .2l.5 4.5l.6 4.7l.6 -3.7l.5 -2.3l.6 -2.7l.5 -.4l.6 3l.6 10.2l.5 4.8l.6 5.4l.5 3.8l.6 .9l.6 .6l.5 6.9l.6 3.2l.6 15.7l.5 5.5l.6 .4l.6 12.9l.5 1.4l.6 4.7l.5 4.7l.6 6l.6 3.7l.5 6.9l.6 9.8l.5 -2.9l.6 -3.3l.6 15.5l.5 6.5l.6 4.7l.6 1.3l.5 8.4l.6 8.1l.6 -6.4l.5 4.8l.6 2.1l.5 -2.5l.6 6l.6 8.4l.5 -2.4l.6 -.4l.5 11.7l.6 2.8l.6 1.6l.5 -2.4l.6 1.2l.6 5.8l.5 3.7l.6 1.9l.6 7l.5 -.6l.6 -6.8l.5 1.1l.6 5.7l.6 7.7l.5 -3l.6 -1l.5 3.2l.6 -.4l.6 -.3l.5 3.2l.6 6.6l.6 1.6l.5 -2.5l.6 2.2l.6 -3.7l.5 6.2l.6 4.1l.5 -1.1l.6 -6.6l.6 10.5l.5 -10.2l.6 -1l.5 4.5l.6 6.6l.6 -4.1l.5 3.1l.6 2.4l.6 -.4l.5 4.5l.6 4.7l.6 -1.9l.5 -3.6l.6 -7.6l.5 10.4l.6 .9l.6 -8l.5 5l.6 8.6l.5 -2.8l.6 -5.8l.6 10.8l.5 .7l.6 -3.3l.6 2.4l.5 -9.6l.6 2.3l.6 3.8l.5 8.9l.6 -5.3l.5 -4.5l.6 -2.5l.6 .9l.5 3.6l.6 3.1l.5 -.4l.6 7.4l.6 -1.1l.5 -1.8l.6 3.2l.6 -1l.5 -5l.6 -5.4l.6 5.3l.5 -.5l.6 5.8l.5 -3.3l.6 -8.6l.6 5.8l.5 7.9l.6 -2.4l.5 -.6l.6 .8l.6 5.8l.5 -2l.6 -3.5l.6 -2.4l.5 -4.4l.6 9.2l.6 4.7l.5 -7.7l.6 2.1l.5 1.9l.6 -2.8l.6 -.8l.5 4.1l.6 -4.8l.5 -.9l.6 3l.6 1.2l.5 -.5l.6 1.4l.6 2l.5 -4.4l.6 1.1l.6 -.3l.5 6.3l.6 -6.6l.5 -.9l.6 5.5l.6 -1.7l.5 -1.8l.6 -.7l.5 2.8l.6 -3.7l.6 1.3l.5 2l.6 -4.8l.6 3.8l.5 .5l.6 1.5l.6 3.4l.5 -.8l.6 -6.3l.5 2.6l.6 -4.1l.6 -.4l.5 10.1l.6 -1.6l.5 2.5l.6 -3.4l.6 -2.4l.5 -3.7l.6 5.2l.6 -.5l.5 .9l.6 .7l.6 -.1l.5 -.7l.6 -1.8l.5 -.6l.6 -2.5l.6 -6.5l.5 6.5l.6 10.1l.5 -1l.6 2.5l.6 -4.6l.5 -8.6l.6 -2.9l.6 5.7l.5 1.3l.6 -2.8l.6 1.9l.5 -4.5l.6 1.7l.5 -.8l.6 -.4l.6 4l.5 -3.4l.6 2.4l.5 2l.6 -8.1l.6 6.6l.5 -7.8l.6 -3l.6 4.2l.5 -9.9l.6 5.5l.6 5.4l.5 -5.1l.6 -1.8l.5 -.5l.6 -2.6l.6 2.8l.5 -4l.6 -2.5l.5 .9l.6 1.2l.6 .4l.5 -10l.6 -7.8l.6 4.3l.5 2.1l.6 -5l.6 1.6l.5 1.9l.6 -1.9l.5 2.3l.6 -9l.6 -2.9l.5 6.7l.6 -3l.5 -10.5l.6 -.6l.6 3.7l.5 2.7l.6 -5.6l.6 -3l.5 -9.5l.6 -3.4l.6 4.2l.5 -7.6l.6 -3.2l.5 -7.5l.6 6l.6 -2.5l.5 -3.2l.6 -8.9l.5 -5.9l.6 8.5l.6 -5.1l.5 -7.6l.6 .3l.6 -1.1l.5 -12l.6 -4.2l.6 2.1l.5 -1.7l.6 -2.1l.5 -5.6l.6 -4.2l.6 -1.5l.5 -5.8l.6 -5.6l.5 -2.7l.6 -1.1l.6 -3.1l.5 -5.1l.6 -3.3l.6 -2.5l.5 -1.9l.6 -2.9l.6 -9.3l.5 1.5l.6 -8.7l.5 -.6l.6 -4.2l.6 -1.2l.5 .4l.6 -13l.5 .1l.6 -.3l.6 -6.6l.5 -1.6l.6 -5l.6 -2.6l.5 -6.3l.6 1.2l.6 -.5l.5 -2.9l.6 -7.6l.5 3.4l.6 2l.6 -9.7l.5 -7.5l.6 -3.2l.5 1.4l.6 .7l.6 -8l.5 -9.9l.6 4.3l.6 .5l.5 -2.1l.6 -.3l.6 -7l.5 -.4l.6 -.9l.5 .1l.6 2.8l.6 -3.8l.5 -5.7l.6 5.7l.5 2l.6 -3.6l.6 -6.3l.5 1.6l.6 6.7l.6 4.9l.5 -1.2l.6 3.6l.6 .1l.5 1.1l.6 6.1l.5 1.2l.6 2.3l.6 5.6l.5 4.3l.6 -3.5l.5 0l.6 -1.5l.6 -.4l.5 6.8l.6 .7l.6 -5.6l.5 6.2l.6 -.9l.6 -1.2l.5 2.3l.6 -.3l.5 -3.8l.6 -10.1l.6 2.4l.5 -3.3l.6 -9.1l.5 -9.1l.6 5.6l.6 -4l.5 -8.9l.6 -5.6l.6 -9.5l.5 -14.7l.6 -4.1l.6 -5l.5 -11.6l.6 -8.4l.5 -8.7l.6 -21.2l.6 -16.4l.5 -8.3l.6 -14.2l.5 -15.7l.6 -12.5l.6 -14.8l.5 -20.4l.6 -16.2l.6 -18.4l.5 -16.2l.6 -19l.6 -21.3l.5 -12.9l.6 -14l.5 -10.9l.6 -10.5l.6 -19l.5 -15.1l.6 -16.2l.5 -14.9l.6 -9l.6 -8.3l.5 -5.8l.6 -5.9l.6 .5l.5 -6.6l.6 -9.3l.6 4.7l.5 3.5l.6 7l.5 12.2l.6 4.9l.6 10.1l.5 16l.6 10.3l.5 17.2l.6 20l.6 19.3l.5 19.9l.6 17.6l.6 17.9l.5 13.2l.6 12.1l.6 23.5l.5 31l.6 19l.5 8.6l.6 21.1l.6 24.3l.5 11.6l.6 22l.5 15.1l.6 21l.6 16.1l.5 24.2l.6 4.6l.6 12l.5 10.2l.6 19.1l.6 13.4l.5 12.9l.6 9.8l.5 4.9l.6 9.9l.6 8.7l.5 8.9l.6 13.3l.5 13.7l.6 8.9l.6 6l.5 2.8l.6 8.6l.6 3.6l.5 7.4l.6 9.8l.6 2.9l.5 2.4l.6 4.5l.5 8.4l.6 3l.6 -1.4l.5 5.5l.6 3.2l.5 11.4l.6 2.6l.6 -4.6l.5 6.5l.6 7.5l.6 2.3l.5 -.5l.6 2.9l.6 3.7l.5 5l.6 1.2l.5 7.6l.6 -3.3l.6 3.6l.5 -.4l.6 -6.8l.5 .5l.6 .3l.6 .8l.5 11.8l.6 0l.6 2.6l.5 -1.7l.6 1.8l.6 -.9l.5 6.1l.6 .6l.5 -1.5l.6 1.8l.6 9.7l.5 -.9l.6 -.7l.5 -5.5l.6 -.6l.6 5.2l.5 -4.9l.6 8.2l.6 2.7l.5 -2.1l.6 -.3l.6 .4l.5 -.3l.6 6.9l.5 1.5l.6 1.5l.6 -3.8l.5 -4l.6 7.4l.5 -4.4l.6 -1.7l.6 6.2l.5 4.2l.6 -7.1l.6 0l.5 3.4l.6 .5l.6 -2.3l.5 4.6l.6 -1l.5 -.6l.6 -6l.6 4.4l.5 -2.2l.6 6.5l.5 4.3l.6 -3.4l.6 1l.5 1.4l.6 -.6l.6 1.7l.5 -.4l.6 -1.6l.6 -1.4l.5 8.4l.6 -.5l.5 -3l.6 2.6l.6 -2.2l.5 -1.6l.6 4l.5 3.4l.6 -.3l.6 -7.8l.5 1.9l.6 2.7l.6 1.8l.5 -3.5l.6 -2.6l.6 3.2l.5 -.8l.6 -1.7l.5 3.4l.6 5.4l.6 -.7l.5 2.3l.6 -5.4l.5 2.5l.6 .7l.6 -4.1l.5 .4l.6 -.5l.6 1.6l.5 -.5l.6 6.3l.6 -2l.5 -6.2l.6 2.6l.5 4.3l.6 -1.2l.6 3l.5 -3.9l.6 -2.7l.5 8.9l.6 -1.2l.6 -.7l.5 .9l.6 .4l.6 -1.5l.5 -1.6l.6 4.1l.6 -3l.5 -.5l.6 3.2l.5 -2.6l.6 -5.6l.6 5l.5 5.7l.6 -1.6l.5 -7.9l.6 4.7l.6 8.7l.5 -9.6l.6 -9.9l.6 6.5l.5 5.5l.6 3.1l.6 1.5l.5 -2.4l.6 .5l.5 .1l.6 -.9l.6 -.9l.5 -.5l.6 2.8l.5 .6l.6 -3.3l.6 3.9l.5 -3.5l.6 -1.4l.6 2.2l.5 -6.2l.6 1.8l.6 6.9l.5 2.1l.6 -6.9l.5 -2.1l.6 -.1l.6 2.5l.5 2.1l.6 -4.9l.5 4l.6 2.5l.6 -.8l.5 -2.3l.6 .7l.6 -4.5l.5 4.2l.6 3.4l.6 -1l.5 -4.2l.6 6.6l.5 3.7l.6 -10.4l.6 2.7l.5 3.1l.6 -9.7l.5 5.9l.6 5.8l.6 .5l.5 -1.8l.6 -3.7l.6 -.8l.5 3.7l.6 4l.6 -4.5l.5 -2l.6 3.7l.5 -8l.6 4l.6 2.1l.5 -7.8l.6 6.7l.5 -.6l.6 2.9l.6 4.9l.5 -7.9l.6 -4.3l.6 4.1l.5 -3.9l.6 5.5l.6 2.3l.5 1.8l.6 -8.2l.5 2.1l.6 4.3l.6 -7.2l.5 5.3l.6 -3.2l.5 1.4l.6 -2.5l.6 4.6l.5 6.7l.6 -4.1l.6 -2.9l.5 4.2l.6 -3.9l.6 -1.3l.5 3.4l.6 -.1l.5 3.2l.6 .6l.6 1.8l.5 -5.5l.6 .5l.5 -4.7l.6 2.5l.6 5.7l.5 3.4l.6 -11.4l.6 -2.6l.5 4.7l.6 -4l.6 2l.5 2.2l.6 -3.7l.5 -2.2l.6 -1.6l.6 3.3l.5 5.1l.6 -2l.5 6.5l.6 -10.6l.6 -4.5l.5 5.5l.6 -4.5l.6 1.6l.5 3.6l.6 -1.8l.6 -3l.5 2.7l.6 -.4l.5 -.5l.6 -.7l.6 -5.2l.5 -4.4l.6 .9l.5 2.2l.6 -1.3l.6 2.3l.5 -1.6l.6 .1l.6 -2.9l.5 -5.7l.6 2.5l.6 0l.5 -6.8l.6 -2.5l.5 9.9l.6 -17.6l.6 2.9l.5 1.9l.6 -4.4l.5 -3.4l.6 -3.6l.6 7l.5 -7.4l.6 -7.1l.6 1.1l.5 -2.6l.6 -5.7l.6 -4.6l.5 -7.2l.6 3.1l.5 -6.8l.6 -12.1l.6 5.9l.5 1.1l.6 -5.8l.5 -7.7l.6 .4l.6 -9l.5 -11.9l.6 2.1l.6 2.1l.5 -3.6l.6 .6l.6 -5.8l.5 -9.7l.6 -5.5l.5 .2l.6 -5l.6 -5.2l.5 -8.8l.6 -.6l.5 -3.4l.6 1.4l.6 .4l.5 .4l.6 3.6l.6 -5.7l.5 1.9l.6 -6l.6 .7l.5 6.3l.6 6.6l.5 -6.5l.6 .4l.6 6.1l.5 3.5l.6 .6l.5 .4l.6 4.8l.6 9.4l.5 2.4l.6 13.6l.6 8.6l.5 -6.8l.6 4.5l.6 13.8l.5 8.5l.6 4l.5 -4.7l.6 4l.6 12.1l.5 3.2l.6 .3l.5 6.5l.6 7.3l.6 1.7l.5 2.5l.6 6.6l.6 -1l.5 -.9l.6 8.2l.6 -1.1l.5 5.2l.6 1.1l.5 5.7l.6 -2.1l.6 6.7l.5 3l.6 -1.7l.5 -1.3l.6 3.1l.6 0l.5 -.9l.6 8.7l.6 3.5l.5 2.5l.6 -6.9l.6 -5.6l.5 1.1l.6 9.3l.5 5.2l.6 -8.3l.6 6.1l.5 .5l.6 -4.6l.5 3.1l.6 4.7l.6 -1.1l.5 -.8l.6 -1.9l.6 -2.8l.5 3l.6 -2.2l.6 5.9l.5 -.8l.6 5.3l.5 -6.1l.6 5.6l.6 -2.5l.5 -3.8l.6 4.4l.5 4.4l.6 -2l.6 -2.6l.5 7.9l.6 -.9l.6 -8.4l.5 .4l.6 8.6l.6 -1.1l.5 -.6l.6 5.3l.5 -7l.6 -1l.6 -1.9l.5 .6l.6 3.2l.5 -5.5l.6 2l.6 2.7l.5 3.3l.6 -4.1l.6 -5.1l.5 4.7l.6 -2.3l.6 2l.5 3.7l.6 -4.3l.5 .2l.6 -1.8l.6 -7.9l.5 1.8l.6 .2l.5 6.3l.6 0l.6 1.4l.5 2l.6 4.1l.6 -3l.5 -2.6l.6 3.1l.6 5.6l.5 -4l.6 -1.4l.5 -1.1l.6 -2.7l.6 -3.8l.5 3.7l.6 1.9l.5 -.2l.6 7.9l.6 -4.2l.5 -1.7l.6 -1.1l.6 4.2l.5 -2.5l.6 5l.6 -3.6l.5 -.1l.6 2.7l.5 -3.9l.6 1.6l.6 -.8l.5 -4.2l.6 -1.1l.5 3.6l.6 6.9l.6 -5.4l.5 -.3l.6 -2.9l.6 1.4l.5 -3.6l.6 -.9l.6 3.7l.5 -1.3l.6 .4l.5 5.4l.6 -1.7l.6 -4.1l.5 -2.8l.6 1.6l.5 7.1l.6 -1.3l.6 -2.4l.5 3l.6 1.9l.6 .8l.5 -4.4l.6 -4.3l.6 -3.6l.5 2.1l.6 2.9l.5 4.4l.6 .5l.6 -3.8l.5 3.5l.6 -4.9l.5 -3l.6 -.1l.6 .1l.5 3.1l.6 -.6l.6 -.7l.5 7.5l.6 -6.1l.6 -3.3l.5 3.5l.6 3.8l.5 1.4l.6 -2.6l.6 -1.6l.5 .2l.6 3.7l.5 -4l.6 -7.9l.6 6.4l.5 -.3l.6 1.5l.6 7l.5 -1.9l.6 3.8l.6 -8.9l.5 .5l.6 3.7l.5 1.8l.6 -4.6l.6 .4l.5 1.4l.6 -.1l.5 -5.2l.6 -3.7l.6 7.3l.5 3.3l.6 -1.4l.6 1.6l.5 2.6l.6 -7l.6 2.9l.5 5.9l.6 -.4l.5 -2.2l.6 -.4l.6 -7.2l.5 -.4l.6 7l.5 4.2l.6 -2.7l.6 -4.9l.5 -.5l.6 4.1l.6 5.8l.5 -2.2l.6 -6.7l.6 1.8l.5 1.3l.6 6.6l.5 -2.8l.6 -5.1l.6 -1.3l.5 -4.2l.6 -1.4l.5 2.4l.6 -.2l.6 3l.5 1.4l.6 2.8l.6 3.5l.5 -3.7l.6 -3.5l.6 -6.4l.5 4.9l.6 4.9l.5 -4.5l.6 -1.1l.6 -.4l.5 5.6l.6 1.6l.5 1.3l.6 -7.3l.6 9.2l.5 -5.5l.6 -6.7l.6 4l.5 -.5l.6 7l.6 -3.6l.5 -4.8l.6 5.3l.5 3.8l.6 -6.8l.6 -2.3l.5 1.1l.6 .9l.5 6.9l.6 1.6l.6 -1.4l.5 .4l.6 -4l.6 .7l.5 -1.8l.6 -4l.6 7.2l.5 -7.7l.6 .1l.5 1.1l.6 -4.9l.6 2.6l.5 3.7l.6 2.1l.5 -3.8l.6 3.2l.6 1.1l.5 .9l.6 -8.7l.6 .3l.5 1.9l.6 3.7l.6 -2.6l.5 -1.6l.6 -2l.5 -1.4l.6 .7l.6 6.9l.5 -4l.6 -8.5l.5 6.9l.6 1.9l.6 2l.5 1.4l.6 -3.3l.6 -2.1l.5 -1l.6 1.3l.6 -2.1l.5 1.7l.6 5.4l.5 -5.5l.6 -3.9l.6 -.4l.5 3.9l.6 1.8l.5 2.2l.6 -1.7l.6 -3.9l.5 -.5l.6 -6.2l.6 2.8l.5 1.2l.6 5.3l.6 .1l.5 -9.7l.6 -3.7l.5 4.7l.6 -8.6l.6 -2l.5 5.7l.6 2.3l.5 -2.1l.6 1.7l.6 -4.2l.5 -2.2l.6 -1.3l.6 -4.6l.5 1.4l.6 -1.1l.6 .2l.5 -9.3l.6 3.8l.5 1.5l.6 -2.4l.6 1.2l.5 -1.6l.6 3l.5 2.6l.6 -1.6l.6 -1.3l.5 -2.8l.6 -3.1l.6 -6l.5 .1l.6 6.4l.6 .5l.5 -5.9l.6 -.7l.5 3.8l.6 -3.2l.6 3.6l.5 -5.6l.6 .9l.5 2l.6 -2.3l.6 -.6l.5 .9l.6 -9.5l.6 4.6l.5 7.1l.6 -1.4l.6 1.4l.5 -6.6l.6 0l.5 3.6l.6 -1.1l.6 4.4l.5 .4l.6 -4.3l.5 3.4l.6 2.8l.6 -3.9l.5 2.1l.6 1.6l.6 0l.5 -4.9l.6 6.6l.6 2.9l.5 -2.7l.6 .8l.5 1.4l.6 -1.5l.6 -1.4l.5 2.7l.6 -.5l.5 0l.6 -1.4l.6 2.7l.5 6.7l.6 .3l.6 -1.2l.5 -.8l.6 -.3l.6 -3.2l.5 9.9l.6 -2.1l.5 -6.2l.6 6l.6 3.4l.5 -2.3l.6 -4l.5 -.8l.6 11l.6 -.2l.5 -4.2l.6 8.3l.6 -3.5l.5 -5.1l.6 4.9l.6 2.3l.5 4.3l.6 -8.5l.5 1.3l.6 -3.4l.6 4.3l.5 .1l.6 -1l.5 -.5l.6 5.2l.6 5.6l.5 -4.5l.6 -3.6l.6 -1.1l.5 3.2l.6 -3.7l.6 13.2l.5 -5.3l.6 .1l.5 -2.2l.6 -8.2l.6 -3.5l.5 3.4l.6 .7l.5 .8l.6 -2.6l.6 10.3l.5 5l.6 -14.6l.6 .7l.5 6.1l.6 -4.6l.6 -2.8l.5 4.3l.6 -.2l.5 -7.7l.6 4.9l.6 -2.4l.5 4.6l.6 -6.5l.5 -10.3l.6 5.3l.6 7.3l.5 -1.3l.6 -3.3l.6 -5.3l.5 3.6l.6 -7.4l.6 3.5l.5 -3.4l.6 -2.4l.5 -2.6l.6 -.9l.6 8l.5 -6.3l.6 -1.1l.5 -2.3l.6 3.4l.6 -6.5l.5 -.7l.6 4.2l.6 4.9l.5 -11.2l.6 -6.4l.6 1.9l.5 5.3l.6 -7.7l.5 .4l.6 -3.5l.6 -5.7l.5 -4.4l.6 3.3l.5 4.3l.6 -4.2l.6 -10.9l.5 .1l.6 6.2l.6 .4l.5 -4.3l.6 1.2l.6 -9.5l.5 -6.8l.6 10.8l.5 -1.7l.6 -8.1l.6 -4.6l.5 -10l.6 6.4l.5 -6.3l.6 -6.7l.6 5l.5 6.9l.6 -5.8l.6 -2.5l.5 -3.3l.6 -.2l.6 -7.5l.5 8.2l.6 -5.7l.5 -1.4l.6 -7.8l.6 7.7l.5 1l.6 2.2l.5 -7.5l.6 .6l.6 -1.9l.5 -2.1l.6 4.7l.6 -5.6l.5 1.9l.6 7.2l.6 1.6l.5 -2.5l.6 -3.4l.5 -5.5l.6 6.8l.6 -2.6l.5 3.7l.6 -1.3l.5 -.6l.6 1.5l.6 3.2l.5 -1.5l.6 1.5l.6 -.1l.5 3.8l.6 2.3l.6 1.4l.5 -2.8l.6 3.3l.5 2.6l.6 2.9l.6 .6l.5 -3.1l.6 5.8l.5 -.4l.6 2.4l.6 -5.1l.5 6.5l.6 6.7l.6 -3.9l.5 4.1l.6 .7l.6 6l.5 2l.6 -6.6l.5 1.7l.6 -2.3l.6 3.7l.5 6.9l.6 3.8l.5 -1.6l.6 -.9l.6 2.4l.5 -.9l.6 3l.6 5.5l.5 -.9l.6 1.7l.6 -3.7l.5 -1l.6 4.3l.5 8.3l.6 .1l.6 1.4l.5 -4l.6 1.9l.5 -7.7l.6 3.2l.6 -4.9l.5 7.6l.6 3.6l.6 1.4l.5 -1.2l.6 -4.3l.6 -2.3l.5 3l.6 6.4l.5 -.8l.6 -5.7l.6 -2.2l.5 -.7l.6 1.4l.5 1l.6 -1.4l.6 .7l.5 -5.1l.6 7.9l.6 .4l.5 1.6l.6 -2.6l.6 -4.6l.5 -.5l.6 .2l.5 -3.6l.6 -1.5l.6 7.7l.5 -.3l.6 -7.8l.5 0l.6 -4l.6 4.3l.5 -5.7l.6 1.2l.6 -1l.5 -2.8l.6 -4.4l.6 -1l.5 -2.2l.6 -2.8l.5 2.9l.6 8l.6 -8.1l.5 -2l.6 -2.9l.5 -6l.6 4.3l.6 -.7l.5 -1.3l.6 -4.5l.6 -3.6l.5 -5.2l.6 -1.6l.6 6l.5 -12.4l.6 .5l.5 6.7l.6 -2.3l.6 -2.7l.5 -5.6l.6 1.1l.5 .9l.6 -5.8l.6 2.3l.5 -6.1l.6 -12.2l.6 3.8l.5 2.7l.6 -3.9l.6 -1l.5 -.6l.6 -5.5l.5 7.7l.6 .5l.6 6.7l.5 -5.1l.6 -3.5l.5 -6.1l.6 5.6l.6 -2.7l.5 2.4l.6 5l.6 1.1l.5 -4.6l.6 -1.1l.6 7.3l.5 6.2l.6 3.9l.5 -2.3l.6 -.3l.6 9.3l.5 -2.2l.6 3.5l.5 1.7l.6 -2.6l.6 2.3l.5 9.3l.6 5.3l.6 3.8l.5 .8l.6 1.3l.6 5.8l.5 3l.6 -2.6l.5 4.8l.6 12.6l.6 -1.8l.5 3.3l.6 3l.5 4.6l.6 -1.3l.6 -1.5l.5 8l.6 1.6l.6 2.8l.5 2.6l.6 6.4l.6 2.1l.5 .5l.6 -1.9l.5 -2l.6 3.6l.6 9l.5 4.3l.6 1.2l.5 -1.9l.6 -2.2l.6 8.1l.5 2l.6 1l.6 -3.1l.5 -.3l.6 6.5l.6 3.9l.5 -4.7l.6 2.7l.5 -1.8l.6 6.9l.6 3.3l.5 5.7l.6 1.1l.5 -8l.6 .1l.6 0l.5 1.8l.6 4.1l.6 -.9l.5 -.4l.6 -4l.6 4.9l.5 1.9l.6 1.8l.5 3.2l.6 -2.2l.6 1.1l.5 -2.8l.6 3.7l.5 -.2l.6 -3.2l.6 .8l.5 -3.1l.6 1.1l.6 2.5l.5 2.4l.6 .8l.6 -1.7l.5 1l.6 -5.7l.5 4.8l.6 5.8l.6 2l.5 1.7l.6 -3.6l.5 -1.5l.6 -.9l.6 -.4l.5 2.4l.6 5.6l.6 -8.2l.5 -.8l.6 5l.6 -2.8l.5 2.9l.6 -3.5l.5 .7l.6 -2.5l.6 4.6l.5 -.1l.6 3.4l.5 -.6l.6 -3.7l.6 .9l.5 3l.6 .7l.6 -.9l.5 -.5l.6 1.2l.6 3.7l.5 -3.2l.6 1.2l.5 -4.2l.6 4.9l.6 2.1l.5 -3.2l.6 -1l.5 -4.5l.6 3.9l.6 2.1l.5 -4.4l.6 1.5l.6 5.3l.5 .5l.6 -.2l.6 -2.5l.5 3.6l.6 -.5l.5 1.7l.6 6.3l.6 -12l.5 -2l.6 4.5l.5 -1.6l.6 5l.6 -1.6l.5 4.7l.6 .5l.6 -2.6l.5 -2l.6 2.4l.6 .4l.5 2.9l.6 -1.9l.5 .5l.6 -1l.6 -1.2l.5 -6.6l.6 2.3l.5 4.1l.6 -4.6l.6 -3.3l.5 3.4l.6 4.1l.6 -5.8l.5 3.6l.6 5.8l.6 -2.9l.5 -.3l.6 1.7l.5 -3.4l.6 2.6l.6 1.7l.5 -6l.6 3.2l.5 4.4l.6 -6.1l.6 3.5l.5 -.5l.6 -5.6l.6 -.7l.5 1.1l.6 5.3l.6 -1l.5 -1.4l.6 -2.8l.5 3.1l.6 -2.1l.6 -.1l.5 5.5l.6 2.4l.5 -3.9l.6 -.4l.6 3l.5 -.8l.6 3.3l.6 2.7l.5 -4.7l.6 -6.3l.6 1.8l.5 7.1l.6 1.9l.5 -.1l.6 0l.6 -5.7l.5 0l.6 4.2l.5 -1.3l.6 .7l.6 -5.4l.5 -3.9l.6 10.9l.6 1.4l.5 -2.7l.6 2.8l.6 4.2l.5 3.7l.6 -17.2l.5 .6l.6 7.2l.6 -9.1l.5 -4.6l.6 5.9l.5 10l.6 .4l.6 2.6l.5 -4.3l.6 -.4l.6 3l.5 -2.9l.6 -3.5l.6 -.2l.5 -13l.6 7.4l.5 -.6l.6 -.1l.6 7.2l.5 1.6l.6 -8.9l.5 4.7l.6 5.3l.6 -1.5l.5 .8l.6 .5l.6 -8.1l.5 1.3l.6 2.3l.6 -3.3l.5 2.5l.6 -.6l.5 1.3l.6 -1.4l.6 5.3l.5 7.5l.6 -7.7l.5 -2.6l.6 1.1l.6 1.5l.5 -1.5l.6 -8.2l.6 5.5l.5 2.8l.6 -4.1l.6 1.5l.5 .5l.6 2.1l.5 -.6l.6 -.8l.6 1.4l.5 1.2l.6 -.5l.5 3.7l.6 -1.2l.6 -5.2l.5 7l.6 -1.2l.6 2.3l.5 -6.6l.6 1.1l.6 6.9l.5 .5l.6 -4.9l.5 -4.4l.6 -1.2l.6 1.4l.5 -2l.6 -.5l.5 -.5l.6 -.4l.6 4.3l.5 -4.8l.6 3.3l.6 5.2l.5 -4.8l.6 -2.7l.6 3.4l.5 1.4l.6 3.4l.5 -8.6l.6 1.6l.6 8.5l.5 -2l.6 3.6l.5 4.4l.6 -8.8l.6 2.4l.5 .2l.6 -3.6l.6 -1.9l.5 -.2l.6 -2.3l.6 1.4l.5 5.1l.6 3.1l.5 -5.2l.6 .4l.6 1.4l.5 -10l.6 5.7l.5 -1.4l.6 -3.1l.6 7.1l.5 6.4l.6 -8.3l.6 -4.1l.5 .1l.6 1.4l.6 1.2l.5 -1.4l.6 -3.5l.5 10.4l.6 -2l.6 -4.9l.5 5.3l.6 -1.5l.5 2.8l.6 1.5l.6 .1l.5 -4.5l.6 1.2l.6 -5.9l.5 -3.2l.6 5.3l.6 1.2l.5 5.1l.6 -2.8l.5 -8.1l.6 3.8l.6 1.9l.5 1l.6 -3.9l.5 -1l.6 3.5l.6 3.9l.5 0l.6 .5l.6 -7.1l.5 .4l.6 3.7l.6 3.3l.5 -1.2l.6 -3l.5 -.5l.6 .3l.6 -4.7l.5 2.7l.6 5.3l.5 .9l.6 -9.1l.6 1.9l.5 -2l.6 6.4l.6 2.5l.5 -.4l.6 -4.5l.6 -6.9l.5 .8l.6 4l.5 -2.9l.6 -.3l.6 10.4l.5 -5.9l.6 1.1l.5 -5.2l.6 3.1l.6 5.7l.5 -.4l.6 1.9l.6 3.3l.5 -10.1l.6 .2l.6 3.7l.5 .1l.6 3.8l.5 -2.6l.6 .9l.6 1.5l.5 -3.7l.6 -.4l.5 -3.9l.6 1.4l.6 1.4l.5 -1.4l.6 -1.7l.6 4.4l.5 -1.4l.6 6.4l.6 .8l.5 -3.7l.6 -5.6l.5 2.8l.6 -.2l.6 -1.5l.5 -4.3l.6 3.7l.5 1.8l.6 -3.1l.6 -2.1l.5 1l.6 -3l.6 .8l.5 8.1l.6 -3.8l.6 6.7l.5 -7.6l.6 2.1l.5 4.1l.6 .2l.6 -1.9l.5 -8.7l.6 5.7l.5 4.5l.6 -3.8l.6 -10.2l.5 7.8l.6 -1.1l.6 -1.3l.5 6.4l.6 2.9l.6 -3.2l.5 -5l.6 6.2l.5 2l.6 -5.6l.6 -5.2l.5 2.9l.6 -3.6l.5 8l.6 1l.6 -5.3l.5 1.1l.6 -6l.6 1.9l.5 .8l.6 -4.4l.6 1.6l.5 5l.6 -4.5l.5 1.1l.6 -2.3l.6 3.5l.5 -4l.6 5.2l.5 4.1l.6 .4l.6 3.6l.5 -4l.6 -3.2l.6 1.6l.5 -3l.6 -6.9l.6 -.2l.5 1.1l.6 4.9l.5 -.5l.6 -.7l.6 3.7l.5 .3l.6 5.6l.5 -4.1l.6 -6.8l.6 6.1l.5 -2l.6 -1.9l.6 4.3l.5 -1.1l.6 .4l.6 -3.8l.5 -1.3l.6 3.8l.5 -2.5l.6 -1.7l.6 1.4l.5 6.3l.6 2.3l.5 -4.6l.6 -2.8l.6 -3.1l.5 5.6l.6 .3l.6 .1l.5 -7.4l.6 3.5l.6 1.5l.5 .8l.6 1.9l.5 -3.3l.6 -3.3l.6 2.9l.5 -5l.6 5.6l.5 .6l.6 -7.2l.6 5.5l.5 2.8l.6 1.1l.6 -1.2l.5 -3l.6 -3.2l.6 -4.9l.5 4.1l.6 2.1l.5 -4.3l.6 1.2l.6 -4l.5 3.6l.6 -.5l.5 -1.9l.6 -4l.6 3.3l.5 -.7l.6 -4.8l.6 1.1l.5 -1.4l.6 2.3l.6 -7.9l.5 -4.3l.6 10.6l.5 -4.5l.6 -2.2l.6 -2.7l.5 -.8l.6 8.1l.5 -13.3l.6 -.7l.6 1.3l.5 -2.4l.6 -4.5l.6 -3.5l.5 6.3l.6 -.5l.6 -8.9l.5 -.3l.6 -4l.5 11l.6 -2.8l.6 -13.2l.5 4.5l.6 2.5l.5 -2.6l.6 -2l.6 -3.6l.5 -.8l.6 -6.3l.6 8l.5 8l.6 -4.2l.6 -2.3l.5 -6.5l.6 .2l.5 -1.3l.6 -.6l.6 7.5l.5 7.3l.6 -2.5l.5 7.6l.6 0l.6 -12.3l.5 2.6l.6 10.7l.6 .6l.5 2.7l.6 -6.4l.6 7.2l.5 -1.8l.6 2.6l.5 10.5l.6 -2.6l.6 -3.1l.5 4.4l.6 -2.5l.5 -1.8l.6 7.8l.6 -4l.5 -2.2l.6 12.1l.6 -4.2l.5 1.6l.6 6.3l.6 -2l.5 -4.7l.6 5.6l.5 -2.1l.6 8.3l.6 6.3l.5 -10.5l.6 .5l.5 -1.2l.6 2l.6 .1l.5 -3.2l.6 4.3l.6 -4.6l.5 3.3l.6 2.1l.6 -2.7l.5 5l.6 .2l.5 -2.7l.6 .2l.6 .2l.5 4.1l.6 -2.1l.5 -11.1l.6 -5.2l.6 7l.5 3l.6 3.2l.6 -2l.5 .1l.6 8.5l.6 -5.4l.5 3.1l.6 .5l.5 3.4l.6 1.1l.6 -3.5l.5 2.2l.6 -1.1l.5 -6.1l.6 3.4l.6 2.9l.5 -2l.6 .3l.6 -1.7l.5 1.6l.6 -.7l.6 -5.4l.5 2.3l.6 8.9l.5 .6l.6 1.1l.6 -4l.5 -3.9l.6 -2.9l.5 3.1l.6 5.3l.6 .9l.5 -.5l.6 -4.4l.6 0l.5 -1.9l.6 4.2l.6 2.1l.5 -4.6l.6 .6l.5 -7l.6 6.4l.6 -.1l.5 -1l.6 4.3l.5 2.1l.6 -4.5l.6 5.7l.5 5.6l.6 -1.1l.6 -1.4l.5 -4.5l.6 2.6l.6 -5.5l.5 -4.6l.6 4.2l.5 2.6l.6 -3.6l.6 7.5l.5 -6.6l.6 -7.7l.5 4.9l.6 10.2l.6 .7l.5 -2.9l.6 -1.2l.6 1.2l.5 .1l.6 -1l.6 -1l.5 -5.5l.6 6.6l.5 -.2l.6 .6l.6 1.9l.5 2.3l.6 -5.2l.5 2.6l.6 3.1l.6 -3.1l.5 -1.3l.6 1l.6 -3.5l.5 .1l.6 -1.2l.6 7.2l.5 -2.6l.6 -4.3l.5 4l.6 3.7l.6 -2.3l.5 -3.4l.6 4.1l.5 4.1l.6 -7.7l.6 4.8l.5 -4.7l.6 4l.6 .7l.5 -1l.6 4l.6 4.5l.5 3.7l.6 -1.1l.5 -3.3l.6 -8l.6 0l.5 3.8l.6 -1.4l.5 3.2l.6 -.6l.6 6l.5 -3.1l.6 -6.9l.6 1.1l.5 .9l.6 4.9l.6 5.2" fill="none" stroke="#f00" stroke-width="5.4" stroke-linejoin="round" stroke-linecap="round"/>
<path d="M378.8 706.6l.6 -9.2l.5 1.7l.6 1.3l.5 -.9l.6 .8l.6 -4.1l.5 2.2l.6 .7l.6 9.8l.5 -2.5l.6 -5.2l.6 -.5l.5 -.8l.6 -1.4l.5 1.2l.6 3.1l.6 -.7l.5 2.2l.6 -1.4l.5 -.8l.6 4.1l.6 -.5l.5 -3.8l.6 -.5l.6 2.3l.5 4.5l.6 -3.8l.6 -2.6l.5 3.2l.6 -3.1l.5 -.8l.6 3.7l.6 .8l.5 -1.5l.6 .9l.5 -8l.6 5.3l.6 -.1l.5 -4.2l.6 4.1l.6 3.5l.5 -2.3l.6 -2.9l.6 2l.5 1.3l.6 3.6l.5 .2l.6 -2.1l.6 1.6l.5 -2.1l.6 -3.4l.5 3l.6 1.9l.6 -1.9l.5 -2.4l.6 1.9l.6 -5.5l.5 4.7l.6 3.5l.6 -5.5l.5 1.6l.6 -.3l.5 3l.6 -4.7l.6 -.7l.5 5.6l.6 3.2l.5 -7.7l.6 .1l.6 4.2l.5 -1.3l.6 4.4l.6 -4.1l.5 .4l.6 -1.5l.6 4.5l.5 -.5l.6 -2.6l.5 -3.7l.6 6.9l.6 1.9l.5 -1.1l.6 1.1l.5 -1.5l.6 -3.4l.6 -1.5l.5 -.2l.6 5.5l.6 -4.3l.5 -1.3l.6 1.8l.6 1.8l.5 1.6l.6 -4.1l.5 -3.4l.6 3.8l.6 5.3l.5 .4l.6 -1.9l.5 -1.9l.6 .9l.6 -.5l.5 2l.6 -2.6l.6 .4l.5 .6l.6 1.4l.6 .1l.5 5.4l.6 .4l.5 -1.3l.6 -8.8l.6 -.1l.5 1.5l.6 2.6l.5 -5.5l.6 5.1l.6 4.2l.5 -6.1l.6 -2.1l.6 1l.5 2.4l.6 2.6l.6 4.3l.5 -3.8l.6 -.3l.5 -.3l.6 3.3l.6 -.5l.5 .4l.6 -5.3l.5 -.8l.6 -.4l.6 5.1l.5 .8l.6 -3.4l.6 -1.5l.5 2.2l.6 -1.7l.6 -2l.5 3.3l.6 6.8l.5 -4.3l.6 -4.1l.6 -1.8l.5 -1.2l.6 4.5l.5 3.2l.6 -1.6l.6 -.2l.5 -.1l.6 -.1l.6 -4.1l.5 .6l.6 2.8l.6 -1.4l.5 -.3l.6 -.4l.5 .8l.6 3.6l.6 -1.6l.5 -.9l.6 2.8l.5 .9l.6 2.4l.6 -8.1l.5 2.7l.6 .4l.6 -.1l.5 2.6l.6 1.6l.6 .2l.5 -2.2l.6 2.6l.5 -2.9l.6 -2l.6 2.6l.5 -2.1l.6 5.1l.5 .6l.6 1.5l.6 -4l.5 -3.6l.6 1l.6 2.1l.5 -2.5l.6 .8l.6 .3l.5 3.6l.6 -3.6l.5 1.5l.6 -2.1l.6 -2.8l.5 .2l.6 -.8l.5 2.8l.6 3.9l.6 -1l.5 .1l.6 3.2l.6 -2.2l.5 -1.8l.6 -1.2l.6 -3.9l.5 4.3l.6 -3.3l.5 2.9l.6 1.4l.6 2.1l.5 -1.6l.6 -3.3l.5 2.1l.6 -.8l.6 -.2l.5 1.1l.6 -.1l.6 -.4l.5 -1.6l.6 .8l.6 -4l.5 2.6l.6 -.1l.5 4.5l.6 3.3l.6 -7.8l.5 1.2l.6 2l.5 -2.6l.6 2.8l.6 -.4l.5 -4.5l.6 2.1l.6 2.2l.5 .9l.6 -3l.6 2.9l.5 2.7l.6 -4.5l.5 -1.1l.6 2l.6 -.4l.5 5.2l.6 -.9l.5 -5l.6 -.9l.6 2.1l.5 6.9l.6 -3.3l.6 -2.3l.5 1.4l.6 -.9l.6 5.2l.5 -4.1l.6 -.3l.5 .1l.6 .5l.6 -3.9l.5 5.1l.6 -1l.5 -1.9l.6 -2.2l.6 -.7l.5 3.5l.6 2.7l.6 0l.5 .9l.6 -.7l.6 -2.3l.5 1.2l.6 .4l.5 -2l.6 1.2l.6 2.5l.5 -1.9l.6 -2.8l.5 2l.6 4.3l.6 -3.8l.5 -2.3l.6 0l.6 3.4l.5 -5.9l.6 1.7l.6 4.8l.5 -4l.6 3.3l.5 .5l.6 -3.9l.6 .6l.5 -3.4l.6 .2l.5 7.3l.6 -3.8l.6 3.4l.5 -1.4l.6 .3l.6 -1l.5 -6.9l.6 1.4l.6 4l.5 -2.4l.6 -2.2l.5 4.1l.6 -.4l.6 -3.9l.5 1.2l.6 5.2l.5 -1.4l.6 1.8l.6 3.3l.5 -3l.6 -4.8l.6 -1.8l.5 2.9l.6 3.9l.6 -.4l.5 0l.6 -2.2l.5 .6l.6 -1l.6 -.6l.5 -2.2l.6 -1.9l.5 2.4l.6 -.2l.6 -.4l.5 4.2l.6 .1l.6 6.6l.5 -1.2l.6 -6.4l.6 1.6l.5 .7l.6 -3.2l.5 3.2l.6 -2.5l.6 -8.1l.5 6.8l.6 1.3l.5 3.4l.6 -2.7l.6 -4l.5 6.1l.6 -3.2l.6 -.1l.5 4.7l.6 -1.8l.6 -2.2l.5 .2l.6 2l.5 -3.2l.6 1.4l.6 1.7l.5 4.3l.6 -4.6l.5 -4.8l.6 3.3l.6 -.8l.5 .2l.6 .4l.6 2.4l.5 -3.4l.6 -.9l.6 -5.6l.5 1l.6 8.1l.5 -2.6l.6 -2.9l.6 -1.5l.5 3.8l.6 1.1l.5 -4l.6 2.8l.6 1.1l.5 .6l.6 -3l.6 4l.5 -.5l.6 -3.1l.6 -1.9l.5 0l.6 2.9l.5 -1.7l.6 1.8l.6 .2l.5 1l.6 -.6l.5 -3.2l.6 -6l.6 2.9l.5 3.7l.6 -1.4l.6 -.1l.5 -2.5l.6 -1.5l.6 -1.8l.5 4.6l.6 -.6l.5 -3.7l.6 -3.6l.6 1.3l.5 4.8l.6 -1.2l.5 -5l.6 3l.6 1.7l.5 -2.1l.6 -2.1l.6 -.5l.5 -2.4l.6 -1.6l.6 -5.1l.5 2.2l.6 -2.1l.5 1l.6 -9.9l.6 -.4l.5 1.7l.6 -5.4l.5 -2.4l.6 -1.2l.6 -3.1l.5 -6.3l.6 -3.9l.6 -.3l.5 -1.8l.6 -6.8l.6 -5.8l.5 -4.3l.6 -2.5l.5 -9.1l.6 -8.5l.6 -1.9l.5 -6.6l.6 -5.7l.5 -3.2l.6 -3.6l.6 -8.8l.5 -2.5l.6 -9l.6 -2.1l.5 -6.6l.6 -5.6l.6 2.1l.5 -2.5l.6 -3.9l.5 -.4l.6 2.8l.6 .9l.5 1.5l.6 5.8l.5 .8l.6 2.9l.6 5.3l.5 9.8l.6 7.6l.6 6.6l.5 3.3l.6 4.2l.6 8.5l.5 4.2l.6 7.4l.5 6.9l.6 1.7l.6 5l.5 5.6l.6 9.3l.5 8.8l.6 -1.5l.6 .8l.5 -2l.6 6.8l.6 5.7l.5 -.1l.6 6.1l.6 -1.1l.5 2.8l.6 4.7l.5 -1.1l.6 5.4l.6 4.8l.5 -4.3l.6 -1.7l.5 6.3l.6 2.1l.6 -2.6l.5 1.9l.6 2.6l.6 1l.5 3.2l.6 .9l.6 3.7l.5 1.4l.6 -1.6l.5 .7l.6 1.7l.6 -.7l.5 -5.1l.6 3.3l.5 1.1l.6 3.3l.6 -1.5l.5 -.4l.6 .4l.6 3.5l.5 -1.7l.6 -2.7l.6 1.2l.5 -.8l.6 .9l.5 .6l.6 .7l.6 4.8l.5 -3.5l.6 -1.6l.5 .2l.6 2.1l.6 -3.3l.5 -.9l.6 2.5l.6 2.5l.5 -.6l.6 -1.7l.6 -1.3l.5 3.2l.6 4.2l.5 -1.4l.6 -1.6l.6 .6l.5 -3l.6 0l.5 1.1l.6 1.6l.6 0l.5 -3.2l.6 4.5l.6 4.5l.5 -4.1l.6 -.6l.6 .6l.5 1.2l.6 -4.9l.5 5l.6 -1.2l.6 1.9l.5 -.7l.6 -2.6l.5 .2l.6 3l.6 -3l.5 -.9l.6 .4l.6 -3.1l.5 6.1l.6 2.1l.6 -2.3l.5 2.3l.6 -3.8l.5 -.3l.6 5.7l.6 .4l.5 -8.8l.6 -6.7l.5 4.4l.6 8.2l.6 -1.1l.5 -1.2l.6 2.4l.6 -2.6l.5 1l.6 2.9l.6 0l.5 -.6l.6 -2.5l.5 1.6l.6 -.8l.6 3.2l.5 5.4l.6 -6.6l.5 -7.7l.6 2.6l.6 4.3l.5 2.8l.6 1l.6 -4.6l.5 -2.3l.6 5.2l.6 -3.2l.5 2.5l.6 -.5l.5 .9l.6 1.2l.6 .2l.5 .2l.6 -4.4l.5 1l.6 1l.6 .4l.5 2.8l.6 -2.6l.6 -2.9l.5 -.5l.6 1.1l.6 3.2l.5 -2.5l.6 3l.5 .4l.6 -2.3l.6 -3.4l.5 2.6l.6 3.2l.5 -5.5l.6 4.3l.6 5l.5 -2.7l.6 -1.2l.6 5.1l.5 -.5l.6 -6.8l.6 -.4l.5 .9l.6 -.1l.5 -5.5l.6 5.1l.6 .5l.5 .3l.6 .3l.5 2.2l.6 -1.6l.6 -2.6l.5 2.7l.6 4l.6 -3.2l.5 2.1l.6 -.6l.6 -3.3l.5 4.3l.6 -3.3l.5 1.7l.6 -1.4l.6 .6l.5 -3l.6 -1l.5 5.3l.6 .2l.6 -1.4l.5 -1.3l.6 1.7l.6 -3.4l.5 -1.6l.6 2.8l.6 -.4l.5 -.4l.6 1.8l.5 .7l.6 -.2l.6 4.7l.5 .8l.6 -.2l.5 -2.9l.6 -2.7l.6 -2.9l.5 1.7l.6 -2.9l.6 1.7l.5 5.3l.6 3.9l.6 -.5l.5 -5.3l.6 1.1l.5 -1.4l.6 2.5l.6 -.2l.5 1.3l.6 5.6l.5 -1.9l.6 1.5l.6 -3.6l.5 -3.9l.6 3.6l.6 3.2l.5 -5.2l.6 -1.2l.6 -2.9l.5 1.3l.6 4.3l.5 -1l.6 -2.3l.6 -2.7l.5 3.5l.6 3.4l.5 .1l.6 -1.1l.6 -4.1l.5 5.7l.6 -.7l.6 -2.4l.5 2.2l.6 -6.1l.6 1.7l.5 2.5l.6 1.3l.5 3.1l.6 -.9l.6 -6.8l.5 .9l.6 3.3l.5 .6l.6 -3.5l.6 -2.7l.5 5.1l.6 2.3l.6 -1.1l.5 -4.6l.6 6.7l.6 -7.3l.5 .6l.6 9.4l.5 -2.5l.6 -1.8l.6 -3l.5 4.7l.6 -3.4l.5 .6l.6 1.7l.6 -3l.5 3.4l.6 -3.3l.6 -1l.5 2.7l.6 -.1l.6 1.8l.5 2.3l.6 -2.4l.5 -2.1l.6 -.2l.6 .5l.5 3.2l.6 -1.1l.5 .3l.6 -.4l.6 -2.4l.5 3.4l.6 -2.6l.6 .3l.5 5.1l.6 -4.6l.6 -.5l.5 -2.5l.6 .8l.5 -1.1l.6 1.7l.6 1l.5 1.5l.6 4.6l.5 -1.4l.6 -.6l.6 -1.3l.5 -1.3l.6 -1.7l.6 -3.1l.5 3.5l.6 6.3l.6 -.9l.5 -3.9l.6 4.3l.5 -2.5l.6 -3l.6 -1.7l.5 0l.6 2.1l.5 6.6l.6 -2.7l.6 -4.8l.5 .1l.6 1.6l.6 -3.2l.5 2.7l.6 3.8l.6 -.2l.5 .3l.6 -4.3l.5 -3.4l.6 7l.6 3.3l.5 -6.8l.6 1.2l.5 1.7l.6 1.2l.6 -.2l.5 -2.2l.6 .9l.6 .9l.5 -.6l.6 -4.7l.6 -5.1l.5 4.2l.6 .6l.5 3.8l.6 3.5l.6 -.5l.5 -2.1l.6 .4l.5 3.3l.6 -3.3l.6 1.8l.5 1.5l.6 -1.3l.6 2.4l.5 -3.9l.6 1.5l.6 -2.5l.5 -1.9l.6 -.5l.5 3.4l.6 -1.5l.6 .7l.5 -1.6l.6 4l.5 4.7l.6 -3l.6 1.6l.5 -.9l.6 2.7l.6 -3.1l.5 -6.8l.6 5.6l.6 -.1l.5 -4.3l.6 -.1l.5 -2l.6 2.5l.6 -.4l.5 5.3l.6 1.2l.5 -6.8l.6 -2.5l.6 2.6l.5 -2.2l.6 2.9l.6 2.5l.5 -1.7l.6 -.3l.6 2.9l.5 3.7l.6 1.3l.5 -3.5l.6 .3l.6 -2.9l.5 .9l.6 -2l.5 2.6l.6 -2.8l.6 -1.7l.5 2.8l.6 2.6l.6 -4.2l.5 -.2l.6 2.8l.6 1.1l.5 -2.5l.6 1.1l.5 .3l.6 3.7l.6 0l.5 -5.7l.6 -4.5l.5 4.7l.6 5.6l.6 -1.1l.5 .5l.6 -2.4l.6 -3.9l.5 4.2l.6 1.1l.6 .7l.5 -4.4l.6 1.3l.5 0l.6 2.6l.6 -1.6l.5 -1.8l.6 .1l.5 4.7l.6 -.8l.6 -3.5l.5 -1.6l.6 -.3l.6 6.3l.5 -5.1l.6 -1.6l.6 5l.5 3.2l.6 -2.6l.5 .7l.6 1.1l.6 .6l.5 -2l.6 2.9l.5 -1.6l.6 1.6l.6 -4.9l.5 1.8l.6 -2.9l.6 -3.3l.5 4.8l.6 -.8l.6 1.5l.5 -2.1l.6 4.8l.5 -.6l.6 -4.8l.6 1.9l.5 3.4l.6 -3.2l.5 1.2l.6 5.4l.6 -1l.5 -3.6l.6 -2.5l.6 2.2l.5 -3.8l.6 -6.4l.6 4.1l.5 1.9l.6 6.6l.5 -.4l.6 -4.8l.6 -1.9l.5 4l.6 -1.2l.5 -1.1l.6 1.6l.6 1.1l.5 .2l.6 .1l.6 3l.5 2.5l.6 -7.9l.6 6.4l.5 -.8l.6 -.3l.5 -3.5l.6 .2l.6 1l.5 -.4l.6 1.7l.5 .4l.6 -4.4l.6 .2l.5 3.2l.6 1l.6 -2.6l.5 -1.2l.6 .4l.6 -2.3l.5 -1.6l.6 6.9l.5 -1.4l.6 -1.2l.6 -1.6l.5 4.1l.6 3.7l.5 -4.5l.6 -.6l.6 -2.3l.5 4.7l.6 1l.6 -5.5l.5 2.9l.6 .4l.6 -1l.5 -.2l.6 -2.7l.5 -1l.6 3l.6 -.3l.5 -3.2l.6 6.3l.5 -2l.6 -3.7l.6 -.9l.5 3.2l.6 2.4l.6 -1.6l.5 .5l.6 -5.2l.6 -.3l.5 1.1l.6 .9l.5 1.7l.6 -5.9l.6 9.6l.5 -3.7l.6 -2.1l.5 2.6l.6 .4l.6 -1.6l.5 -8.9l.6 .4l.6 6.7l.5 -2.2l.6 -2.6l.6 -3.7l.5 7l.6 2.4l.5 -4.7l.6 -.2l.6 .6l.5 -2.8l.6 .4l.5 1.9l.6 .9l.6 1.7l.5 -2.8l.6 -3.4l.6 .9l.5 -2.2l.6 -3.6l.6 4.4l.5 -1.8l.6 -1.6l.5 .8l.6 -4.9l.6 .9l.5 .3l.6 -3.2l.5 -1.1l.6 -4.1l.6 -7l.5 .8l.6 -1.4l.6 1.1l.5 -1.9l.6 -5.7l.6 -2.6l.5 .7l.6 -2.4l.5 -5.9l.6 -4.8l.6 -5.8l.5 -4.9l.6 -2.6l.5 -5.6l.6 -4.8l.6 -8l.5 -8.4l.6 -6.1l.6 -2.2l.5 .6l.6 -3.4l.6 -10.9l.5 -9.2l.6 .3l.5 -2.4l.6 -9.1l.6 .2l.5 -2.3l.6 -.6l.5 -2.7l.6 -.8l.6 -.9l.5 -3l.6 2.2l.6 2.9l.5 7.2l.6 2.1l.6 1.8l.5 10.7l.6 10.2l.5 7.7l.6 6l.6 -.4l.5 5.1l.6 7.7l.5 7.5l.6 1.1l.6 8.2l.5 8.6l.6 2.2l.6 5.7l.5 8.3l.6 2.4l.6 4.8l.5 4.5l.6 1.5l.5 1.9l.6 .6l.6 5.4l.5 -.2l.6 -.8l.5 4.9l.6 -.4l.6 2.5l.5 4.2l.6 -.6l.6 -.1l.5 2.9l.6 1.4l.6 -5.2l.5 -1.7l.6 7.5l.5 1.5l.6 -6.9l.6 -.9l.5 4.8l.6 -.4l.5 2.7l.6 1.1l.6 .9l.5 -3.4l.6 2.6l.6 5.9l.5 -5.1l.6 2.1l.6 2l.5 -1.1l.6 -2.1l.5 -3.5l.6 -.5l.6 4.6l.5 2.7l.6 1l.5 -.2l.6 -.4l.6 -3.4l.5 -3.5l.6 2.6l.6 2.6l.5 -.6l.6 -4.5l.6 .5l.5 -1.1l.6 2.9l.5 -.9l.6 .7l.6 2.4l.5 .2l.6 2.8l.5 -4.6l.6 -5.8l.6 6.5l.5 5l.6 .7l.6 -2.9l.5 -.8l.6 -.7l.6 -4.1l.5 0l.6 3.5l.5 -1.4l.6 4.9l.6 -5.6l.5 -1.6l.6 5.2l.5 -2.4l.6 -3.5l.6 -1.3l.5 1.3l.6 6.3l.6 0l.5 -1.2l.6 -2.5l.6 2l.5 -.2l.6 -3.5l.5 -.2l.6 2.1l.6 3.2l.5 -2l.6 -.2l.5 4.4l.6 -5.2l.6 -4.8l.5 5l.6 1.3l.6 -2.2l.5 .2l.6 -1.2l.6 1.3l.5 -1.2l.6 1.7l.5 -3.6l.6 -1.7l.6 2.6l.5 -.4l.6 2.1l.5 -.5l.6 -2.4l.6 1.2l.5 -1.1l.6 -3.6l.6 -.4l.5 1.3l.6 1.1l.6 1.7l.5 2.6l.6 -.1l.5 2.5l.6 .2l.6 -4.5l.5 2.6l.6 1l.5 -4.8l.6 -.3l.6 2.7l.5 -1.3l.6 .7l.6 -.8l.5 -.1l.6 -2.4l.6 .3l.5 -1.2l.6 1.5l.5 -4.8l.6 1.9l.6 4.7l.5 -.8l.6 -2.5l.5 .4l.6 -2.9l.6 -1.9l.5 .9l.6 .9l.6 2.9l.5 -3.5l.6 2.2l.6 -4.3l.5 -1.5l.6 2.6l.5 3.7l.6 -3.2l.6 -6.3l.5 4.2l.6 1.9l.5 -3.5l.6 -1.5l.6 .6l.5 2.2l.6 2.1l.6 -5l.5 6.5l.6 -1.4l.6 -4.1l.5 1.9l.6 -.5l.5 4.6l.6 -.7l.6 -5.6l.5 -2.2l.6 -.7l.5 -.1l.6 2.3l.6 -2.4l.5 3.6l.6 -1.9l.6 -2.7l.5 2.2l.6 -6.4l.6 -1.6l.5 4.7l.6 -.1l.5 -1.3l.6 .5l.6 -2.6l.5 -.7l.6 -3.1l.5 -3.4l.6 6.6l.6 -2.2l.5 -2.9l.6 4.8l.6 1.1l.5 -5.2l.6 -2.8l.6 .3l.5 -2.5l.6 1.7l.5 -.1l.6 -1.5l.6 .5l.5 -.4l.6 1.6l.5 -.6l.6 -9.8l.6 1.2l.5 -3.2l.6 -4.8l.6 3.4l.5 -2.6l.6 -2.6l.6 2.1l.5 -4.7l.6 -4.9l.5 .5l.6 1.3l.6 -3.3l.5 -8.9l.6 -3.4l.5 -.9l.6 2.3l.6 -3.7l.5 -5.5l.6 -3.5l.6 -8.1l.5 -4.9l.6 -4.4l.6 -9.5l.5 -5.6l.6 -4l.5 -10.5l.6 -4.9l.6 -5.9l.5 -8l.6 -13.4l.5 -9.8l.6 -5.9l.6 -10.9l.5 -16.3l.6 -11.6l.6 -8.5l.5 -15.5l.6 -14.6l.6 -8.4l.5 -18.6l.6 -18.8l.5 -18l.6 -16.1l.6 -10.2l.5 -17.4l.6 -20.4l.5 -16.1l.6 -12.1l.6 -10.8l.5 -15.7l.6 -9.7l.6 -11l.5 -7.3l.6 -4.5l.6 -3.2l.5 -3.9l.6 1l.5 7.5l.6 5.3l.6 13.6l.5 17.6l.6 18.8l.5 16.7l.6 18.1l.6 21.1l.5 18.9l.6 20.8l.6 22.5l.5 20.1l.6 15.4l.6 18.2l.5 13.6l.6 21.2l.5 15.5l.6 14.5l.6 10.9l.5 13.1l.6 14l.5 12.5l.6 4.5l.6 11.5l.5 8.4l.6 4.7l.6 9.2l.5 5.9l.6 4.7l.6 4.2l.5 6.6l.6 5.1l.5 3.2l.6 1.5l.6 3.5l.5 6l.6 6.2l.5 .4l.6 4.5l.6 .5l.5 -2.4l.6 5l.6 0l.5 3.1l.6 5.1l.6 -1.1l.5 .3l.6 8l.5 -1l.6 -1.5l.6 2.5l.5 -.5l.6 0l.5 2.2l.6 -5.3l.6 7l.5 -.6l.6 -2.3l.6 4.9l.5 1.5l.6 -3.1l.6 2.8l.5 -.8l.6 .1l.5 -.8l.6 1.3l.6 4.5l.5 1.4l.6 .7l.5 2.4l.6 -1.2l.6 -2.2l.5 .7l.6 5.8l.6 -1.2l.5 -.8l.6 -.3l.6 .8l.5 1.3l.6 -.5l.5 -.5l.6 -1.3l.6 -.6l.5 3.4l.6 2.8l.5 1.2l.6 -1.6l.6 -3l.5 2.9l.6 2.1l.6 -5l.5 3.4l.6 2.6l.6 2.7l.5 -5.3l.6 -3.6l.5 5.2l.6 -3.6l.6 -.3l.5 .7l.6 0l.5 -1.9l.6 3.3l.6 5.3l.5 .4l.6 -.4l.6 -1.8l.5 3.7l.6 .2l.6 .3l.5 -5.6l.6 1.7l.5 -1.2l.6 2.1l.6 1.6l.5 -3.3l.6 1.8l.5 4.3l.6 -.3l.6 -.4l.5 -3.4l.6 -1.2l.6 -.7l.5 2.7l.6 4.4l.6 -.5l.5 -1.9l.6 -3.2l.5 2.7l.6 .4l.6 -4.9l.5 -1.6l.6 3.8l.5 .5l.6 5.8l.6 -.8l.5 -4.6l.6 .2l.6 5.9l.5 -3.6l.6 1.2l.6 1.4l.5 2.2l.6 -.9l.5 -3.5l.6 1.3l.6 0l.5 1.8l.6 -1.4l.5 3.9l.6 -2.6l.6 -1.2l.5 -2l.6 .6l.6 .8l.5 .3l.6 2l.6 -2.7l.5 -2.5l.6 4.5l.5 -1l.6 -2.7l.6 4.1l.5 1.3l.6 -9l.5 1.4l.6 5.7l.6 1.6l.5 -3.3l.6 3.5l.6 -3.3l.5 -1.6l.6 1.6l.6 0l.5 1.8l.6 1.5l.5 -2.4l.6 2.2l.6 -3.5l.5 -1.5l.6 5.4l.5 -1.8l.6 .3l.6 -2.6l.5 -1.6l.6 .5l.6 .7l.5 -1l.6 .1l.6 1.9l.5 1.9l.6 -2.2l.5 -.3l.6 1.2l.6 -4.9l.5 -4l.6 7.1l.5 2.9l.6 -3.8l.6 -1.1l.5 -3.2l.6 -3.1l.6 3.3l.5 -2.8l.6 3.3l.6 -1.4l.5 0l.6 4.8l.5 1.4l.6 -6.1l.6 .1l.5 -4.2l.6 -2.2l.5 2.3l.6 3l.6 -4.4l.5 -.5l.6 -.6l.6 -4.8l.5 .2l.6 4.5l.6 -3l.5 -1.6l.6 .4l.5 -4.7l.6 1.7l.6 1.9l.5 -.8l.6 -2l.5 -6.3l.6 -4.1l.6 -2.3l.5 -2.2l.6 -1.6l.6 2.8l.5 1.5l.6 -6.6l.6 -1l.5 -5.5l.6 -2.4l.5 -2.8l.6 -4.7l.6 1l.5 -.3l.6 -3.8l.5 -3.5l.6 -4l.6 -1.3l.5 -2.9l.6 -1.4l.6 -5.6l.5 -1.3l.6 -.7l.6 -1l.5 -2.9l.6 -5.8l.5 -6.7l.6 -7.4l.6 -.5l.5 2.3l.6 -1.3l.5 -13.9l.6 -4.6l.6 -.6l.5 -5.1l.6 -1.6l.6 -2.8l.5 -5.5l.6 -3.5l.6 -7.3l.5 -4.4l.6 -3l.5 .5l.6 -8l.6 -3.7l.5 .3l.6 -4.8l.5 -2.7l.6 -6.5l.6 -2.9l.5 -1.2l.6 .2l.6 -5.7l.5 -3.6l.6 -6.1l.6 -4.9l.5 .6l.6 -3.8l.5 -2.1l.6 -3.5l.6 -.1l.5 -.1l.6 -10.1l.5 .5l.6 -2.2l.6 -3.5l.5 -3.1l.6 -.2l.6 -4.8l.5 -2.4l.6 -.6l.6 1.9l.5 2.6l.6 .7l.5 -.2l.6 -1.2l.6 -2l.5 6.6l.6 5.3l.5 3.8l.6 6.9l.6 1.7l.5 2.5l.6 -.5l.6 9.6l.5 7.2l.6 2.8l.6 7.2l.5 3.1l.6 4.7l.5 12l.6 5l.6 3.8l.5 4.4l.6 3.8l.5 2.9l.6 8.5l.6 .2l.5 2.3l.6 1.4l.6 .9l.5 -3.4l.6 .3l.6 10.5l.5 5l.6 -4.6l.5 -1.6l.6 1.4l.6 -4.4l.5 3.2l.6 -5.8l.5 -5.4l.6 -8l.6 4.4l.5 -2.6l.6 -2.8l.6 -10.1l.5 -5.9l.6 -5.5l.6 -7.1l.5 -2.8l.6 -5.4l.5 -10.8l.6 -14.9l.6 -8.8l.5 -7.7l.6 -12.4l.5 -12.4l.6 -12.2l.6 -16.1l.5 -11.8l.6 -8.5l.6 -18.7l.5 -14.7l.6 -11.3l.6 -19.4l.5 -14.8l.6 -17.7l.5 -14.6l.6 -16.1l.6 -15.2l.5 -13.6l.6 -14.1l.5 -14.4l.6 -19.8l.6 -6.8l.5 -13.1l.6 -17.2l.6 -12.1l.5 -8.6l.6 -13l.6 -10.4l.5 -9.2l.6 -6.7l.5 -7.5l.6 .2l.6 3.6l.5 3.5l.6 9l.5 5l.6 1.2l.6 6.7l.5 4.8l.6 2.1l.6 3.8l.5 11.4l.6 7.4l.6 14l.5 19.9l.6 26.5l.5 23.5l.6 22.6l.6 24.9l.5 31l.6 29.6l.5 20.6l.6 24.5l.6 28.5l.5 25.2l.6 15.8l.6 18.9l.5 22.4l.6 14.8l.6 13.9l.5 13.9l.6 10.9l.5 14.2l.6 13.1l.6 6l.5 10.6l.6 12.7l.5 6.6l.6 7.7l.6 3.5l.5 8.9l.6 2.4l.6 9l.5 2.1l.6 .6l.6 3.2l.5 4.7l.6 3.8l.5 2.6l.6 3.6l.6 5.7l.5 4.4l.6 -.3l.5 4.7l.6 -1.5l.6 -.8l.5 1.6l.6 6l.6 -1.5l.5 -.7l.6 8.5l.6 5.9l.5 1l.6 -6.3l.5 1.5l.6 5.1l.6 .4l.5 -4.2l.6 2.1l.5 -.8l.6 .5l.6 9.9l.5 1.5l.6 -6.4l.6 -2l.5 5.7l.6 .5l.6 2.3l.5 -.9l.6 .3l.5 2.3l.6 -2l.6 -3.2l.5 1.2l.6 2.8l.5 2.4l.6 1.5l.6 .6l.5 2l.6 -2.4l.6 4.5l.5 4.8l.6 -2.9l.6 -2.1l.5 2.8l.6 .3l.5 -1.6l.6 -1.1l.6 -1.5l.5 -1.4l.6 4.4l.5 3.9l.6 -4.6l.6 0l.5 2.2l.6 -.9l.6 -1.4l.5 .8l.6 -3.2l.6 3.1l.5 2.1l.6 6l.5 .3l.6 -4.4l.6 -.5l.5 5l.6 2.1l.5 -3.5l.6 -2.3l.6 -3.5l.5 1.4l.6 2l.6 -1l.5 5.7l.6 -5.8l.6 .1l.5 3.7l.6 .9l.5 3.4l.6 -6l.6 -2l.5 3.1l.6 1.3l.5 -1.1l.6 -1.4l.6 4.3l.5 -2.8l.6 -1.3l.6 5.8l.5 3.4l.6 -1.6l.6 -5.3l.5 -2l.6 0l.5 -.4l.6 1.6l.6 5.3l.5 -.4l.6 -3.6l.5 -1.2l.6 -.8l.6 5.6l.5 -5l.6 1.8l.6 -1.2l.5 -1.1l.6 -.5l.6 5.8l.5 .5l.6 5.9l.5 -5.8l.6 -4.7l.6 4.2l.5 2.2l.6 -2l.5 -5.3l.6 6.6l.6 2.2l.5 -1.4l.6 -2.6l.6 2l.5 -1.3l.6 .1l.6 .3l.5 3.4l.6 -2.4l.5 -1.8l.6 3.9l.6 -.2l.5 -1.7l.6 -.7l.5 2.8l.6 -2.4l.6 .9l.5 5.4l.6 -2l.6 -4.9l.5 -2.5l.6 3l.6 -1.7l.5 -2.5l.6 1.7l.5 .3l.6 4.6l.6 -3.3l.5 4.8l.6 -1.9l.5 -.7l.6 2.6l.6 -.4l.5 .8l.6 -3.5l.6 -5.3l.5 3.6l.6 -1l.6 1l.5 5.3l.6 -.9l.5 -2.3l.6 -1.8l.6 1.5l.5 1.5l.6 -3.3l.5 3l.6 -1l.6 1.6l.5 0l.6 2.8l.6 1.6l.5 -2.2l.6 -1.3l.6 1.3l.5 3.1l.6 .5l.5 -2.6l.6 -.7l.6 3.5l.5 -6.4l.6 1.5l.5 -.8l.6 3.9l.6 -1.8l.5 -1.2l.6 -1.9l.6 1.6l.5 3.4l.6 3.2l.6 -6.2l.5 -1.6l.6 12l.5 -1.9l.6 -6l.6 .2l.5 -7.3l.6 6.8l.5 1.7l.6 -5.8l.6 4.6l.5 -1.2l.6 -3.2l.6 3.4l.5 1.6l.6 -2.2l.6 -.1l.5 -2.7l.6 -1.9l.5 5.8l.6 4l.6 -1.7l.5 -1.3l.6 -2l.5 -.3l.6 -1.7l.6 5.8l.5 -2.5l.6 -.5l.6 .2l.5 -4.1l.6 6.6l.6 -1.7l.5 -3.9l.6 1.7l.5 -1.5l.6 1l.6 -1.4l.5 2.5l.6 .6l.5 -4.3l.6 4.2l.6 .8l.5 -4.5l.6 2l.6 1.9l.5 3.5l.6 -5.1l.6 .7l.5 -.4l.6 .5l.5 -1.5l.6 -.8l.6 1.5l.5 -3.8l.6 -4.6l.5 3.9l.6 1.2l.6 .6l.5 1.8l.6 -1.8l.6 2.1l.5 -1.6l.6 -1.5l.6 1.6l.5 -.1l.6 -2.5l.5 -.7l.6 -2.5l.6 -1.3l.5 1.5l.6 2l.5 -2.8l.6 .9l.6 3.7l.5 1.1l.6 -5.9l.6 -.9l.5 -.8l.6 -1.1l.6 -.7l.5 -1.8l.6 -.9l.5 -2.4l.6 -3.3l.6 -.7l.5 -.3l.6 .6l.5 -2.9l.6 -1.9l.6 .3l.5 -7.1l.6 -3.3l.6 .6l.5 -2.6l.6 -5.6l.6 1.2l.5 -2.8l.6 -6.4l.5 3.2l.6 -7.3l.6 -3.9l.5 -3.2l.6 -2.2l.5 -1.3l.6 -6.4l.6 -3.5l.5 -2.8l.6 -5.9l.6 .6l.5 -3.6l.6 -6.1l.6 -5.3l.5 -3.4l.6 -2l.5 -4.4l.6 .1l.6 -10.6l.5 -6.7l.6 2.5l.5 -4.1l.6 .4l.6 -1l.5 1l.6 .2l.6 1.6l.5 .1l.6 .8l.6 -.5l.5 1.9l.6 1.2l.5 -1.1l.6 -.3l.6 2.3l.5 7.7l.6 -1.4l.5 6.6l.6 4.9l.6 6.6l.5 4.7l.6 1.2l.6 4.9l.5 -.6l.6 7.6l.6 7.8l.5 -1.6l.6 7.8l.5 4.7l.6 3.2l.6 -.1l.5 6.5l.6 5.8l.5 1.6l.6 -.2l.6 6.1l.5 6.2l.6 1.1l.6 3l.5 -.9l.6 2.2l.6 3.6l.5 1.7l.6 8.4l.5 -.8l.6 -3.8l.6 3.9l.5 -1.5l.6 2.7l.5 4.2l.6 -1.4l.6 .1l.5 -.2l.6 3l.6 .4l.5 6l.6 1.2l.6 -2.7l.5 -3.3l.6 8l.5 3.2l.6 -2.3l.6 -1.1l.5 .2l.6 -1l.5 5.6l.6 -.7l.6 -5.7l.5 .4l.6 -3.4l.6 6.1l.5 4.8l.6 3.1l.6 2.4l.5 -6.4l.6 -.2l.5 3.3l.6 .5l.6 -3.2l.5 1.9l.6 1.2l.5 2.1l.6 -2.1l.6 -2l.5 -.7l.6 .2l.6 -.6l.5 .8l.6 2.9l.6 1.2l.5 2.3l.6 .7l.5 -1.2l.6 -4.9l.6 2.3l.5 3.8l.6 -5.3l.5 -2.4l.6 .8l.6 .1l.5 2l.6 -.6l.6 2.7l.5 -2.2l.6 .8l.6 .6l.5 -1.5l.6 4.5l.5 .1l.6 .2l.6 -1.4l.5 1.6l.6 1.2l.5 -2l.6 -4.9l.6 4.6l.5 3l.6 -1.3l.6 -.4l.5 -.1l.6 .1l.6 -2.9l.5 1l.6 2.2l.5 -1.8l.6 -2l.6 6.7l.5 .5l.6 -3.8l.5 -1.6l.6 -5.5l.6 .4l.5 4.5l.6 5.4l.6 -6.4l.5 -.8l.6 8.3l.6 .2l.5 -2.2l.6 1.6l.5 -2.3l.6 -1.7l.6 2.1l.5 1.5l.6 -4.7l.5 4.1l.6 -4.9l.6 -1.5l.5 10.7l.6 -4.3l.6 -1.6l.5 -2.8l.6 -.4l.6 -.2l.5 .2l.6 3l.5 3.9l.6 -.9l.6 .5l.5 -4.4l.6 2.2l.5 0l.6 .8l.6 -3.7l.5 -2l.6 4l.6 -.1l.5 -2.5l.6 -2.9l.6 .1l.5 1.9l.6 .9l.5 -3.3l.6 -1.5l.6 1.7l.5 -3.4l.6 2.7l.5 -.5l.6 -2.1l.6 -6.6l.5 -1.6l.6 1.6l.6 1l.5 -1.6l.6 2l.6 .3l.5 -2.4l.6 -6l.5 5.3l.6 -.9l.6 -1l.5 -3.1l.6 -.8l.5 1.8l.6 -1l.6 .7l.5 -2.3l.6 3.9l.6 -7l.5 -1.4l.6 5.8l.6 -.8l.5 -1.6l.6 -3l.5 6.4l.6 -3.4l.6 2.9l.5 2.9l.6 2.1l.5 3.2l.6 -3.9l.6 -2.2l.5 2l.6 -2.1l.6 5.4l.5 .9l.6 .6l.6 -1.8l.5 1.9l.6 .5l.5 1.2l.6 -1.2l.6 4.6l.5 -1l.6 -6.3l.5 6.1l.6 2.1l.6 -2.1l.5 8.1l.6 -1.7l.6 -6l.5 .5l.6 3.8l.6 0l.5 3.3l.6 1.7l.5 -4.6l.6 0l.6 2.8l.5 -1.6l.6 -1.2l.5 3.5l.6 .8l.6 -5l.5 0l.6 1.6l.6 1.1l.5 -1l.6 4.6l.6 -3.1l.5 -3.1l.6 3.3l.5 -4.5l.6 .1l.6 5.8l.5 -2.7l.6 -1.1l.5 5.5l.6 .9l.6 -1.7l.5 0l.6 -2l.6 1.4l.5 0l.6 6.2l.6 -1.5l.5 -4.6l.6 -.3l.5 .7l.6 -3.5l.6 -.3l.5 6.6l.6 -4.4l.5 -1.6l.6 5.1l.6 3.2l.5 -5.7l.6 3l.6 -1.4l.5 2.7l.6 -.4l.6 -3.4l.5 1.6l.6 .8l.5 -3.6l.6 5.6l.6 -2.6l.5 .6l.6 -2.3l.5 -5.5l.6 .1l.6 3.4l.5 3.1l.6 3.7l.6 -3l.5 -3.1l.6 -2.9l.6 1.7l.5 2.3l.6 -6l.5 5.5l.6 3.9l.6 2.5l.5 -6.6l.6 -1.8l.5 1l.6 -3.5l.6 -.7l.5 .1l.6 3.4l.6 1.5l.5 2l.6 -3.4l.6 -4.9l.5 3.1l.6 1.9l.5 .4l.6 1.6l.6 -4.2l.5 .9l.6 -3l.5 .3l.6 2.5l.6 -1.7l.5 -.6l.6 -3.9l.6 -.6l.5 2.5l.6 -2.8l.6 -1.3l.5 8.2l.6 -1.8l.5 -6l.6 -2.5l.6 5.2l.5 -8.1l.6 .2l.5 4.8l.6 -2.6l.6 .5l.5 -3.5l.6 -.2l.6 .5l.5 -1l.6 -.7l.6 -1.2l.5 1.4l.6 -3.3l.5 -3.9l.6 -1l.6 -1.1l.5 -4.7l.6 -4.1l.5 -.9l.6 3l.6 -2.3l.5 -2.7l.6 6.3l.6 -2.6l.5 -8.1l.6 -5.4l.6 1.7l.5 -6l.6 -.8l.5 -2.5l.6 -2.4l.6 -8l.5 -2.5l.6 -8.9l.5 -3.6l.6 .8l.6 -4l.5 -11.4l.6 -1.6l.6 -2l.5 -6.2l.6 -6.8l.6 -3.9l.5 -4.1l.6 -.1l.5 -2.3l.6 -1.5l.6 -2l.5 -6.5l.6 .7l.5 7.2l.6 -4.6l.6 1.2l.5 1.4l.6 1.4l.6 6l.5 7l.6 4.7l.6 3.4l.5 5.3l.6 -1.2l.5 7.5l.6 6.6l.6 2.5l.5 4l.6 2.4l.5 8.1l.6 1.6l.6 -.5l.5 6.3l.6 3.7l.6 3.8l.5 7.6l.6 .6l.6 1.3l.5 8.2l.6 -4.2l.5 2l.6 6.3l.6 3.8l.5 4.1l.6 -4.6l.5 1.1l.6 1.4l.6 -.4l.5 .2l.6 -1l.6 4.8l.5 4.4l.6 -3l.6 3.2l.5 -.1l.6 -2l.5 -3.8l.6 8.1l.6 4.4l.5 -2.4l.6 -.9l.5 -1.9l.6 4l.6 1.3l.5 1.2l.6 .3l.6 -4.1l.5 -2l.6 5.1l.6 -2.5l.5 2.5l.6 4.3l.5 -4.5l.6 2.3l.6 1.1l.5 .6l.6 -2.3l.5 .2l.6 1.9l.6 4.1l.5 -1l.6 -2l.6 -4.9l.5 1.8l.6 -.6l.6 .1l.5 1.4l.6 2l.5 -.3l.6 -1.8l.6 -1.4l.5 2.9l.6 -4.3l.5 -.9l.6 4.1l.6 -2.8l.5 .1l.6 .9l.6 2.2l.5 -1.4l.6 -8.8l.6 -.1l.5 2l.6 .9l.5 -1.4l.6 2.3l.6 -1.1l.5 -7.8l.6 -2.6l.5 -4.1l.6 6.6l.6 -1.2l.5 -3.7l.6 -5l.6 -.4l.5 2.1l.6 -2.6l.6 -2.6l.5 -2.3l.6 4.6l.5 -4.9l.6 -7.4l.6 -.6l.5 -.4l.6 -1.2l.5 -2.1l.6 -4.5l.6 -.9l.5 .4l.6 -6l.6 4l.5 1.3l.6 -11.6l.6 -3.1l.5 2.9l.6 .2l.5 -.8l.6 -11l.6 -5.1l.5 .1l.6 1.1l.5 -5l.6 -.5l.6 -.2l.5 -1.3l.6 -6.8l.6 -.6l.5 -.2l.6 -3.1l.6 2.3l.5 -3.2l.6 1.2l.5 -4l.6 2.5l.6 2.1l.5 -6.8l.6 -.4l.5 1.4l.6 -3.2l.6 3.1l.5 2.2l.6 -3.4l.6 1.3l.5 4.1l.6 -.8l.6 -1.6l.5 6.4l.6 -2.4l.5 1.4l.6 5.2l.6 1.7l.5 -5.5l.6 2.2l.5 4.2l.6 1.9l.6 3.9l.5 2.8l.6 .8l.6 1.7l.5 4.1l.6 3.5l.6 -5.6l.5 8.3l.6 .3l.5 1.9l.6 -2.4l.6 1.7l.5 1.5l.6 6.9l.5 4.4l.6 -.6l.6 .3l.5 3l.6 -.9l.6 .9l.5 1.8l.6 5.5l.6 1.6l.5 -2.7l.6 4.1l.5 4l.6 3.9l.6 -2.4l.5 1.4l.6 6.8l.5 -2.7l.6 -1.9l.6 3.4l.5 -.3l.6 1.2l.6 .4l.5 -.3l.6 4.9l.6 -.1l.5 -2.3l.6 1.9l.5 2.1l.6 2.1l.6 2.9l.5 3.7l.6 -5.9l.5 -.7l.6 -2.2l.6 3.8l.5 3.9l.6 -2.2l.6 -1.7l.5 -.1l.6 -1l.6 5.1l.5 6.2l.6 -5.9l.5 3.4l.6 -.7l.6 -5.3l.5 3.5l.6 3l.5 -.6l.6 -2.1l.6 4l.5 -2.6l.6 -.2l.6 1l.5 -4.1l.6 -4.6l.6 -1.1l.5 3.2l.6 3.2l.5 -4.9l.6 -.5l.6 6.6l.5 -6.2l.6 .9l.5 1.9l.6 .2l.6 -6.1l.5 .8l.6 -3.1l.6 3.6l.5 -3.3l.6 -.9l.6 -2.8l.5 -.7l.6 -4.7l.5 .7l.6 1.2l.6 -3.3l.5 1.1l.6 -3.5l.5 -3.1l.6 -3l.6 .1l.5 -7.9l.6 -5.6l.6 -3.1l.5 -1.7l.6 -4l.6 -3.3l.5 -5.3l.6 -7.7l.5 -5.1l.6 -3.6l.6 -12l.5 -.2l.6 -6.5l.5 -8.6l.6 -4.9l.6 -7.6l.5 -11l.6 -5.9l.6 -2l.5 -6.6l.6 -7.8l.6 -12.3l.5 -9.4l.6 -4.2l.5 -5l.6 -10.6l.6 -11.6l.5 -10.4l.6 1.1l.5 -8.8l.6 -3.6l.6 -.3l.5 3.6l.6 -6.9l.6 -5.8l.5 1.2l.6 2.6l.6 5.8l.5 4.6l.6 2.2l.5 2.7l.6 13.4l.6 10.4l.5 14.5l.6 6.3l.5 11.2l.6 10.4l.6 9l.5 16.8l.6 9.5l.6 6.9l.5 11.2l.6 6.1l.6 7.5l.5 7.7l.6 13.8l.5 6.1l.6 5l.6 7.7l.5 2.8l.6 3.5l.5 .9l.6 8l.6 6.1l.5 1.7l.6 6.7l.6 -2.6l.5 4.7l.6 .8l.6 .6l.5 4.9l.6 7.2l.5 -2.7l.6 -1.1l.6 1.3l.5 9.5l.6 1.6l.5 -1l.6 5.3l.6 -1.5l.5 -7.4l.6 2l.6 1.1l.5 8.3l.6 -3.9l.6 .7l.5 .8l.6 -.2l.5 1.9l.6 .8l.6 -1.1l.5 -1.6l.6 1.3l.5 .2l.6 .3l.6 3.3l.5 1.1l.6 1.7l.6 -.7l.5 5.1l.6 -3.7l.6 -3.8l.5 5.2l.6 -1.5l.5 .2l.6 3.6l.6 -1.4l.5 -1.8l.6 3.4l.5 .3l.6 -2.8l.6 -2.6l.5 1.4l.6 -2l.6 .6l.5 .7l.6 3.5l.6 3.2l.5 -2.9l.6 -1.1l.5 -1.3l.6 -1.4l.6 2.3l.5 4l.6 1.2l.5 .3l.6 -1.9l.6 -7.4l.5 6.5l.6 5.9l.6 -.4l.5 -.5l.6 .6l.6 4.5l.5 -3.9l.6 .2l.5 -.2l.6 -1.2l.6 -2.2l.5 -1.5l.6 -2.2l.5 3.5l.6 0l.6 -3.4l.5 .1l.6 -.5l.6 6.7l.5 -1.1l.6 -1.4l.6 -2.9l.5 -1.2l.6 5.7l.5 -.6l.6 -.4l.6 4.8l.5 2.8l.6 -3.3l.5 -2.3l.6 -.9l.6 -1.7l.5 5.4l.6 -5.4l.6 -1.3l.5 -3.3l.6 -.7l.6 5.2l.5 2.3l.6 -.2l.5 -1.9l.6 -1.9l.6 -.1l.5 .6l.6 4l.5 2.8l.6 -2.2l.6 -4l.5 -2.3l.6 2.6l.6 .1l.5 -4.9l.6 6.1l.6 .5l.5 -2.7l.6 -2l.5 -.8l.6 4.4l.6 -2.6l.5 .1l.6 2.6l.5 3.7l.6 -1.9l.6 -3.5l.5 -2.1l.6 2.6l.6 1.9l.5 -3.8l.6 .5l.6 -.8l.5 -5.1l.6 -.7l.5 5.3l.6 3.7l.6 -1.5l.5 -3.6l.6 -2.7l.5 2.3l.6 .8l.6 -5.6l.5 3.1l.6 -.8l.6 1.6l.5 1.3l.6 .1l.6 1.1l.5 -.6l.6 -5l.5 -2.2l.6 5.5l.6 1.5l.5 -5.5l.6 -3.2l.5 7.8l.6 8l.6 -1.1l.5 -3.8l.6 .8l.6 -6.4l.5 1.3l.6 8.1l.6 2.8l.5 -7.5l.6 5.3l.5 3l.6 .6l.6 -2l.5 -.6l.6 -2.3l.5 2.5l.6 3.6l.6 -3.8l.5 1.3l.6 -.5l.6 3.2l.5 2l.6 -8.6l.6 3.1l.5 5.3l.6 -3.2l.5 -1l.6 .7l.6 -2.4l.5 1.5l.6 5.8l.5 -.5l.6 1.4l.6 .1l.5 -.1l.6 -2.4l.6 .4l.5 4.1l.6 .3l.6 -3.6l.5 -4.1l.6 -1.8l.5 2.8l.6 2.1l.6 -5.6l.5 2.4l.6 3.1l.5 .1l.6 -2.2l.6 6.4l.5 0l.6 -7.6l.6 -1.2l.5 4.9l.6 1.3l.6 -1.4l.5 -.8l.6 -.7l.5 -.8l.6 -1.8l.6 3.5l.5 -6.6l.6 1l.5 7.8l.6 -2.7l.6 -3.6l.5 7.5l.6 1.8l.6 -4.1l.5 -2.7l.6 .4l.6 .2l.5 .1l.6 -1.1l.5 2.7l.6 -1.2l.6 -4.6l.5 -.3l.6 4.1l.5 -1l.6 -5.1l.6 8.5l.5 2.6l.6 -3.9l.6 -1.3l.5 2.6l.6 3.6l.6 -4l.5 .1l.6 -1.4l.5 1.2l.6 -2.6l.6 -3.7l.5 4.1l.6 2.1l.5 1.8l.6 -2.5l.6 3.5l.5 -.7l.6 2.1l.6 -3l.5 2.3l.6 -1.6l.6 -1.6l.5 2.4l.6 -6l.5 -1.7l.6 8.4l.6 -4.9l.5 -1.7l.6 4l.5 3.7l.6 -3.9l.6 -1l.5 -2.4l.6 .3l.6 4.6l.5 0l.6 -1.9l.6 .7l.5 -.2l.6 -.3l.5 -1.3l.6 -2.4l.6 3.5l.5 -2.6l.6 3.2l.5 5.6l.6 -.2l.6 1.3l.5 -7.7l.6 -1.1l.6 -1.1l.5 -1.2l.6 -2.5l.6 0l.5 5.9l.6 2.3l.5 1l.6 .4l.6 -1l.5 -4.6l.6 -.4l.5 3.1l.6 2.4l.6 -3.6l.5 -2.5l.6 -.1l.6 5.3l.5 -.1l.6 -3.7l.6 -2.4l.5 2.5l.6 -4l.5 .9l.6 1l.6 -.6l.5 1.9l.6 1.5l.5 7l.6 -4.3l.6 -2.3l.5 -3.2l.6 -4.2l.6 6l.5 5.7l.6 -6.7l.6 -1.5l.5 4.2l.6 -1.2l.5 -7.8l.6 5.5l.6 1.3l.5 .7l.6 -3.4l.5 2.5l.6 2.7l.6 -4.4l.5 .8l.6 -1.5l.6 -1.2l.5 -.9l.6 .6l.6 -.1l.5 4.3l.6 -1.3l.5 -4.2l.6 5.2l.6 1l.5 0l.6 -2.3l.5 .5l.6 -1.1l.6 -3.3l.5 1.5l.6 1.4l.6 -.1l.5 1.7l.6 -5.8l.6 1.8l.5 -.2l.6 -.2l.5 2.4l.6 -.1l.6 -2.5l.5 2.7l.6 -.4l.5 1.5l.6 1.9l.6 -3.8l.5 -4l.6 2l.6 3.3l.5 -.4l.6 -4.5l.6 -3.3l.5 1.1l.6 .9l.5 3.9l.6 .5l.6 1.3l.5 -1.5l.6 3.2l.5 -2l.6 -.8l.6 -1.9l.5 .9l.6 2.7l.6 -.1l.5 .8l.6 -4.2l.6 .3l.5 4.4l.6 -2.1l.5 -3l.6 -.8l.6 -.9l.5 1.3l.6 4l.5 -.9l.6 -2.5l.6 -2.6l.5 -1.9l.6 8.5l.6 -2.8l.5 -2.3l.6 -.8l.6 .9l.5 -.8l.6 .6l.5 4l.6 -3.9l.6 .4l.5 .1l.6 1.2l.5 -2.6l.6 .9l.6 -2.2l.5 -4l.6 .2l.6 1.5l.5 0l.6 1.8l.6 4.6l.5 -3.9l.6 1.1l.5 1.2l.6 -2.6l.6 -1.7l.5 3.2l.6 1.8l.5 -2l.6 -.6l.6 .6l.5 -3.2l.6 2l.6 2.2l.5 3.9l.6 -5.8l.6 -2.8l.5 2.9l.6 -.5l.5 -.4l.6 1.2l.6 -.2l.5 .3l.6 1.5l.5 -4.6l.6 2.9l.6 -4.4l.5 6.5l.6 3l.6 -4.8l.5 2.1l.6 -.9l.6 0l.5 1.6l.6 -.6l.5 -1.4l.6 1.1l.6 -1.2l.5 -1.5l.6 -1.7l.5 -2.8l.6 7.4l.6 2.3l.5 -6.5l.6 1.8l.6 1.8l.5 -6.3l.6 .4l.6 3.6l.5 5.5l.6 .7l.5 -.4l.6 -2.1l.6 .5l.5 -4.6l.6 1.7l.5 2.5l.6 -4.9l.6 1.3l.5 5l.6 2.6l.6 -.9l.5 -6.1l.6 -1.3l.6 -.4l.5 3.6l.6 -3.2l.5 -3.4l.6 -2l.6 3.5l.5 2.5l.6 -2.8l.5 -2.2l.6 .7l.6 3.9l.5 -5.5l.6 -.9l.6 1.5l.5 -.2l.6 1.5l.6 -1l.5 -3l.6 1.1l.5 -.5l.6 -3.8l.6 -2.5l.5 -5l.6 .2l.5 -2.1l.6 -3.4l.6 .3l.5 -4l.6 -1.1l.6 .6l.5 1.3l.6 -1.8l.6 -.2l.5 2.8l.6 -1.4l.5 -6.8l.6 -4.8l.6 .8l.5 .6l.6 -3l.5 -.9l.6 .3l.6 2.9l.5 6.6l.6 3.4l.6 -6.2l.5 -1.7l.6 -1.2l.6 -1.4l.5 4.1l.6 2.8l.5 -.9l.6 2.9l.6 -.1l.5 3l.6 -1.4l.5 2.2l.6 -.2l.6 .3l.5 2.5l.6 -3.5l.6 -.2l.5 3.2l.6 1l.6 1.8l.5 -1.3l.6 -2.1l.5 3l.6 2.9l.6 -1.8l.5 4l.6 1.4l.5 -.1l.6 .1l.6 -4.2l.5 5.3l.6 -3.5l.6 -1l.5 2l.6 -.8l.6 -1.2l.5 -2.9l.6 -.5l.5 1.4l.6 3.5l.6 -3.4l.5 .9l.6 1.1l.5 -1l.6 -1.7l.6 .7l.5 -3l.6 3.1l.6 3.4l.5 -1.3l.6 2.1l.6 1.4l.5 -2.3l.6 3.1l.5 -.9l.6 6.3l.6 -4.3l.5 -3.2l.6 1.3l.5 3l.6 4l.6 -.9l.5 -2l.6 5.7l.6 1.3l.5 -3.8l.6 -.6l.6 -2.8l.5 2.6l.6 6.7l.5 -4.7l.6 -3.8l.6 4l.5 -4l.6 6.6l.5 -2.2l.6 -1.4l.6 2.6l.5 4.2l.6 -.2l.6 -6.7l.5 -2.4l.6 4.9l.6 -3.5l.5 1.5l.6 .7l.5 3.1l.6 2.8l.6 -9.1l.5 2.3l.6 3.9l.5 -3.7l.6 -1.7l.6 -1.7l.5 1l.6 2.6l.6 2.9l.5 1.1l.6 -4.4l.6 -3.8l.5 3.8l.6 -7.3l.5 -1.3l.6 6.8l.6 6.7l.5 -5.4l.6 -1.3l.5 -1.7l.6 1.3l.6 1.6l.5 -1.5l.6 2.3l.6 .4l.5 1.3l.6 -.6l.6 -3.1l.5 2.5l.6 3.8l.5 -2.8l.6 3.7l.6 .8l.5 -2.7l.6 .4l.5 -.3l.6 -1.3l.6 4.4l.5 2.7l.6 -3l.6 -.5l.5 .7l.6 2.7l.6 3.6l.5 -3.9l.6 .2l.5 .9l.6 1.5l.6 3.5l.5 -4.2l.6 -5.4l.5 3.7l.6 -.8l.6 6.9l.5 -1.3l.6 -1.5l.6 2.3l.5 1l.6 -1.2l.6 .7l.5 3.4l.6 -1.6l.5 4.3l.6 -.7l.6 -8.2l.5 5.1l.6 -2.2l.5 2.3l.6 7.8l.6 -.2l.5 -6.7l.6 -1.6l.6 2.8l.5 4.9l.6 -3.3l.6 2.1l.5 .6l.6 -1.7l.5 -.4l.6 4.8l.6 -5.5l.5 -2.8l.6 5.8l.5 3l.6 -5.4l.6 -1.7l.5 .1l.6 4.2l.6 -.7l.5 3.9l.6 1.1l.6 -1.9" fill="none" stroke="#00f" stroke-width="5.4" stroke-linejoin="round" stroke-linecap="round"/>
</g>
<g fill="#000"><rect x="376" y="35" width="6" height="1580"/><rect x="2344" y="35" width="7" height="1580"/><rect x="376" y="35" width="1975" height="7"/><rect x="376" y="1608" width="1975" height="7"/><rect x="375.6" y="1614" width="6.4" height="29"/><rect x="516.2" y="1614" width="6.4" height="13"/><rect x="656.9" y="1614" width="6.4" height="29"/><rect x="797.5" y="1614" width="6.4" height="13"/><rect x="938.1" y="1614" width="6.4" height="29"/><rect x="1078.8" y="1614" width="6.4" height="13"/><rect x="1219.4" y="1614" width="6.4" height="29"/><rect x="1360.0" y="1614" width="6.4" height="13"/><rect x="1500.6" y="1614" width="6.4" height="29"/><rect x="1641.3" y="1614" width="6.4" height="13"/><rect x="1781.9" y="1614" width="6.4" height="29"/><rect x="1922.5" y="1614" width="6.4" height="13"/><rect x="2063.2" y="1614" width="6.4" height="29"/><rect x="2203.8" y="1614" width="6.4" height="13"/><rect x="2344.4" y="1614" width="6.4" height="29"/><rect x="347" y="1608.2" width="30" height="6.6"/><rect x="363" y="1472.6" width="14" height="6.6"/><rect x="347" y="1337.0" width="30" height="6.6"/><rect x="363" y="1201.4" width="14" height="6.6"/><rect x="347" y="1065.8" width="30" height="6.6"/><rect x="363" y="930.2" width="14" height="6.6"/><rect x="347" y="794.7" width="30" height="6.6"/><rect x="363" y="659.1" width="14" height="6.6"/><rect x="347" y="523.5" width="30" height="6.6"/><rect x="363" y="387.9" width="14" height="6.6"/><rect x="347" y="252.3" width="30" height="6.6"/><rect x="363" y="116.7" width="14" height="6.6"/></g>
<line x1="1387" y1="209" x2="1554" y2="209" stroke="#000" stroke-width="4.3" stroke-linecap="round"/><line x1="1388" y1="300.4" x2="1553" y2="300.4" stroke="#f00" stroke-width="5.4" stroke-linecap="round"/><line x1="1388" y1="391.4" x2="1553" y2="391.4" stroke="#00f" stroke-width="5.4" stroke-linecap="round"/>
<text class="t" transform="translate(325.7 1631.5) scale(1 1.035)" text-anchor="end">0</text>
<text class="t" transform="translate(325.7 1360.3) scale(1 1.035)" text-anchor="end">5,000</text>
<text class="t" transform="translate(325.7 1089.1) scale(1 1.035)" text-anchor="end">10,000</text>
<text class="t" transform="translate(325.7 818.0) scale(1 1.035)" text-anchor="end">15,000</text>
<text class="t" transform="translate(325.7 546.8) scale(1 1.035)" text-anchor="end">20,000</text>
<text class="t" transform="translate(325.7 275.6) scale(1 1.035)" text-anchor="end">25,000</text>
<text class="t" transform="translate(378.8 1716) scale(1 1.035)" text-anchor="middle">10</text>
<text class="t" transform="translate(660.1 1716) scale(1 1.035)" text-anchor="middle">20</text>
<text class="t" transform="translate(941.3 1716) scale(1 1.035)" text-anchor="middle">30</text>
<text class="t" transform="translate(1222.6 1716) scale(1 1.035)" text-anchor="middle">40</text>
<text class="t" transform="translate(1503.8 1716) scale(1 1.035)" text-anchor="middle">50</text>
<text class="t" transform="translate(1785.1 1716) scale(1 1.035)" text-anchor="middle">60</text>
<text class="t" transform="translate(2066.4 1716) scale(1 1.035)" text-anchor="middle">70</text>
<text class="t" transform="translate(2347.6 1716) scale(1 1.035)" text-anchor="middle">80</text>
<text class="a" transform="translate(1156.7 114.8) scale(1 1.035)">Ni (111)</text>
<text class="a" transform="translate(501.4 507.4) scale(1 1.035)">S (001)</text>
<text class="a" transform="translate(856.6 544.7) scale(1 1.035)">S (221)</text>
<text class="a" transform="translate(1811.4 541.1) scale(1 1.035)">S (400)</text>
<text class="a" transform="translate(1428.7 641.0) scale(1 1.035)">Ni (200)</text>
<text class="a" transform="translate(1573.6 233.9) scale(1 1.03)">MZ02 (calc. 600 °C)</text>
<text class="a" transform="translate(1573.6 324.8) scale(1 1.03)">MZ02 (after catal. test)</text>
<text class="a" transform="translate(1573.6 416.8) scale(1 1.03)">MZ02 (7 TPR cycles)</text>
<text class="b" transform="translate(1184.8 1842) scale(1 1.01)">2 theta / °</text>
<text class="b" transform="translate(87.1 1080.5) rotate(-90) scale(1 1.01)">Intensity / a.u.</text>
</svg>
</body></html>
